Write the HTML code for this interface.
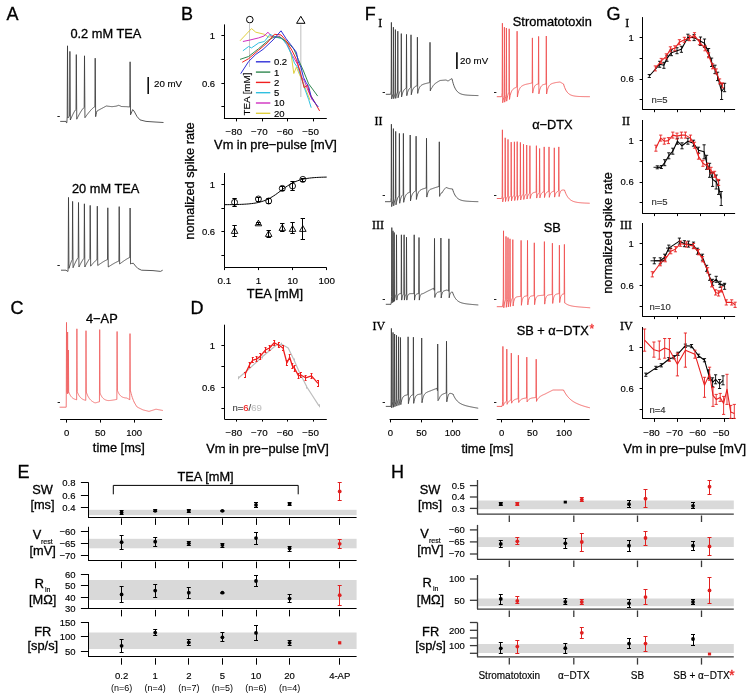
<!DOCTYPE html>
<html><head><meta charset="utf-8"><style>
html,body{margin:0;padding:0;background:#fff;}
svg{display:block;will-change:transform;}

</style></head><body>
<svg width="751" height="698" viewBox="0 0 751 698">
<rect width="751" height="698" fill="#fff"/>
<text x="6.4" y="20" font-size="18" text-anchor="start" fill="#000" stroke="#000" stroke-width="0.3" style="font-family:'Liberation Sans', sans-serif">A</text>
<text x="181" y="19.6" font-size="18" text-anchor="start" fill="#000" stroke="#000" stroke-width="0.3" style="font-family:'Liberation Sans', sans-serif">B</text>
<text x="10.5" y="314" font-size="18" text-anchor="start" fill="#000" stroke="#000" stroke-width="0.3" style="font-family:'Liberation Sans', sans-serif">C</text>
<text x="190.5" y="314.4" font-size="18" text-anchor="start" fill="#000" stroke="#000" stroke-width="0.3" style="font-family:'Liberation Sans', sans-serif">D</text>
<text x="17.5" y="478.3" font-size="18" text-anchor="start" fill="#000" stroke="#000" stroke-width="0.3" style="font-family:'Liberation Sans', sans-serif">E</text>
<text x="364.8" y="20" font-size="18" text-anchor="start" fill="#000" stroke="#000" stroke-width="0.3" style="font-family:'Liberation Sans', sans-serif">F</text>
<text x="606.5" y="20.1" font-size="18" text-anchor="start" fill="#000" stroke="#000" stroke-width="0.3" style="font-family:'Liberation Sans', sans-serif">G</text>
<text x="391" y="478.4" font-size="18" text-anchor="start" fill="#000" stroke="#000" stroke-width="0.3" style="font-family:'Liberation Sans', sans-serif">H</text>
<text x="70.4" y="37.8" font-size="12.8" text-anchor="start" fill="#000" stroke="#000" stroke-width="0.3" style="font-family:'Liberation Sans', sans-serif">0.2 mM TEA</text>
<polyline points="60.2,121.4 66,121.4 66.5,122.8 66.8,122.8 67,119.9 67.2,117 67.5,45.8 67.95,118 68.36,117.38 68.78,116.81 69.19,116.33 69.6,116 69.9,51.4 70.35,120 70.75,119.04 71.16,118.09 71.56,117.17 71.96,116.28 72.37,115.41 72.77,114.57 73.18,113.76 73.58,112.99 73.98,112.25 74.39,111.56 74.79,110.92 75.19,110.34 75.6,109.84 76,109.5 76.3,54.6 76.75,119.2 77.16,118.36 77.58,117.54 77.99,116.73 78.41,115.94 78.82,115.16 79.23,114.41 79.65,113.67 80.06,112.95 80.47,112.25 80.89,111.58 81.3,110.93 81.72,110.3 82.13,109.71 82.54,109.16 82.96,108.64 83.37,108.17 83.79,107.77 84.2,107.5 84.5,55.8 84.95,117.7 85.36,117.11 85.78,116.52 86.19,115.95 86.61,115.38 87.02,114.82 87.44,114.27 87.85,113.73 88.27,113.19 88.68,112.67 89.1,112.16 89.51,111.66 89.93,111.17 90.34,110.69 90.75,110.22 91.17,109.77 91.58,109.34 92,108.92 92.41,108.51 92.83,108.13 93.24,107.77 93.66,107.44 94.07,107.13 94.49,106.88 94.9,106.7 95.2,58.2 95.65,116.7 96.1,114.36 96.55,112.37 97,111 97,111 97.4,110.78 97.81,110.57 98.21,110.35 98.62,110.13 99.02,109.91 99.43,109.7 99.83,109.48 100.23,109.26 100.64,109.04 101.04,108.83 101.45,108.61 101.85,108.39 102.26,108.17 102.66,107.96 103.07,107.74 103.47,107.52 103.87,107.3 104.28,107.09 104.68,106.87 105.09,106.65 105.49,106.43 105.9,106.22 106.3,106 106.3,106 106.71,106.05 107.11,106.1 107.52,106.15 107.93,106.2 108.34,106.25 108.74,106.3 109.15,106.35 109.56,106.4 109.96,106.45 110.37,106.5 110.78,106.55 111.19,106.6 111.59,106.65 112,106.7 112,106.7 112.4,106.65 112.8,106.6 113.2,106.55 113.6,106.5 114,106.45 114.4,106.4 114.8,106.35 115.2,106.3 115.6,106.25 116,106.2 116,106.2 116.47,106.05 116.93,105.9 117.4,105.75 117.87,105.6 118.33,105.45 118.8,105.3 118.8,105.3 119.25,105.5 119.7,105.7 120.15,105.9 120.6,106.1 121.05,106.3 121.5,106.5 121.5,106.5 121.91,106.52 122.32,106.53 122.72,106.55 123.13,106.56 123.54,106.58 123.95,106.59 124.35,106.61 124.76,106.62 125.17,106.64 125.58,106.65 125.98,106.67 126.39,106.68 126.8,106.7 126.8,106.7 127.23,106.74 127.66,106.79 128.09,106.83 128.51,106.87 128.94,106.91 129.37,106.96 129.8,107 130.1,61.8 130.55,114.8 132.7,109.6 134,111 137,116.5 140,119.9 146,121.4 155,122 163.5,122.5" fill="none" stroke="#3a3a3a" stroke-width="0.85" stroke-linejoin="round"/>
<line x1="57.4" y1="116.5" x2="59.8" y2="116.5" stroke="#222" stroke-width="1"/>
<line x1="148.2" y1="77" x2="148.2" y2="94" stroke="#111" stroke-width="1.6"/>
<text x="154" y="87.2" font-size="9.7" text-anchor="start" fill="#000" stroke="#000" stroke-width="0.15" style="font-family:'Liberation Sans', sans-serif">20 mV</text>
<text x="72" y="192.6" font-size="12.8" text-anchor="start" fill="#000" stroke="#000" stroke-width="0.3" style="font-family:'Liberation Sans', sans-serif">20 mM TEA</text>
<polyline points="61,270.2 66,270.2 67.7,271.4 68,271.4 68.1,266.7 68.2,262 68.5,197.4 68.95,268.4 69.37,267.1 69.79,265.83 70.21,264.61 70.62,263.43 71.04,262.31 71.46,261.27 71.88,260.33 72.3,259.6 72.6,201.4 73.05,267.7 73.48,266.69 73.91,265.7 74.34,264.72 74.77,263.77 75.2,262.84 75.62,261.94 76.05,261.07 76.48,260.23 76.91,259.43 77.34,258.69 77.77,258.02 78.2,257.5 78.5,202.5 78.95,267 79.38,266.13 79.81,265.27 80.24,264.43 80.67,263.61 81.1,262.81 81.53,262.03 81.95,261.28 82.38,260.55 82.81,259.87 83.24,259.22 83.67,258.65 84.1,258.2 84.4,203.8 84.85,267 85.27,266.16 85.69,265.33 86.11,264.52 86.53,263.73 86.95,262.95 87.38,262.2 87.8,261.47 88.22,260.77 88.64,260.11 89.06,259.49 89.48,258.93 89.9,258.5 90.2,205.4 90.65,266.2 91.07,265.68 91.5,265.16 91.92,264.65 92.34,264.15 92.77,263.66 93.19,263.18 93.61,262.7 94.04,262.24 94.46,261.8 94.88,261.37 95.31,260.95 95.73,260.56 96.15,260.19 96.58,259.86 97,259.6 97.3,206.2 97.75,265.5 98.16,265.21 98.56,264.92 98.97,264.63 99.38,264.34 99.78,264.06 100.19,263.78 100.59,263.5 101,263.23 101.41,262.96 101.81,262.69 102.22,262.43 102.62,262.17 103.03,261.91 103.44,261.66 103.84,261.42 104.25,261.18 104.66,260.94 105.06,260.72 105.47,260.5 105.88,260.29 106.28,260.09 106.69,259.9 107.09,259.73 107.5,259.6 107.8,207.8 108.25,267 108.66,266.73 109.07,266.46 109.48,266.19 109.89,265.93 110.3,265.67 110.71,265.41 111.12,265.15 111.53,264.89 111.94,264.64 112.35,264.39 112.76,264.15 113.17,263.91 113.58,263.67 113.98,263.43 114.39,263.2 114.8,262.97 115.21,262.75 115.62,262.53 116.03,262.32 116.44,262.12 116.85,261.92 117.26,261.72 117.67,261.54 118.08,261.37 118.49,261.22 118.9,261.1 119.2,206.6 119.65,264 120.06,263.69 120.46,263.38 120.87,263.08 121.27,262.77 121.68,262.47 122.09,262.18 122.49,261.88 122.9,261.59 123.3,261.3 123.71,261.02 124.12,260.74 124.52,260.47 124.93,260.19 125.33,259.93 125.74,259.66 126.15,259.41 126.55,259.16 126.96,258.91 127.36,258.67 127.77,258.44 128.18,258.22 128.58,258.01 128.99,257.81 129.39,257.64 129.8,257.5 130.1,208 130.55,264 131.5,263.5 133.4,263.3 135.5,266 137.8,268.4 141.5,270.2 153,270.6 160.5,271.4 162.7,270.2" fill="none" stroke="#3a3a3a" stroke-width="0.85" stroke-linejoin="round"/>
<line x1="57.4" y1="265.5" x2="59.8" y2="265.5" stroke="#222" stroke-width="1"/>
<text x="86" y="323.2" font-size="12.8" text-anchor="start" fill="#000" stroke="#000" stroke-width="0.3" style="font-family:'Liberation Sans', sans-serif">4−AP</text>
<polyline points="59.6,407.2 66.2,407.2 66.25,400.98 66.5,322.4 66.8,391.98 66.8,391.97 67.15,392.88 67.35,393.92 67.6,332 67.9,391.93 67.9,391.91 68.15,393.19 68.4,350 68.7,391.89 68.7,391.87 69.05,392.79 69.4,393.61 69.75,394.34 70.1,394.99 70.45,395.57 70.8,396.1 71.15,396.56 71.5,396.98 71.85,397.35 72.2,397.68 72.55,397.97 72.9,398.24 73.25,398.47 73.6,398.68 73.95,398.86 74.3,399.02 74.65,399.17 75,399.29 75.35,399.41 75.7,399.51 76.05,399.6 76.4,399.71 76.65,399.85 76.9,328.8 77.2,391.55 77.2,391.56 77.55,392.51 77.9,393.36 78.25,394.13 78.6,394.82 78.95,395.44 79.3,396 79.65,396.5 80,396.95 80.35,397.35 80.7,397.72 81.05,398.05 81.4,398.35 81.75,398.62 82.1,398.86 82.45,399.08 82.8,399.28 83.15,399.46 83.5,399.62 83.85,399.77 84.2,399.9 84.55,400.02 84.9,400.13 85.25,400.24 85.6,400.33 85.75,400.42 86,330.7 86.3,392 86.3,392.08 86.65,393.11 87,394.05 87.35,394.89 87.7,395.66 88.05,396.36 88.4,397 88.75,397.58 89.1,398.11 89.45,398.6 89.8,399.04 90.15,399.45 90.5,399.83 90.85,400.18 91.2,400.5 91.55,400.8 91.9,401.07 92.25,401.33 92.6,401.58 92.95,401.8 93.3,402.02 93.65,402.22 94,402.41 94.35,402.59 94.7,402.76 95.05,402.9 95.4,402.83 95.75,402.75 96.1,402.67 96.45,402.58 96.8,402.49 97.15,402.39 97.5,402.29 97.85,402.19 98.2,402.08 98.55,401.97 98.9,401.86 99.25,401.82 99.45,401.81 99.7,329.6 100,392.95 100,392.92 100.35,393.83 100.7,394.64 101.05,395.36 101.4,396 101.75,396.58 102.1,397.09 102.45,397.55 102.8,397.95 103.15,398.31 103.5,398.64 103.85,398.92 104.2,399.17 104.55,399.4 104.9,399.59 105.25,399.77 105.6,399.92 105.95,400.06 106.3,400.18 106.65,400.28 107,400.37 107.35,400.45 107.7,400.51 108.05,400.56 108.4,400.56 108.75,400.56 109.1,400.54 109.45,400.52 109.8,400.5 110.15,400.47 110.5,400.43 110.85,400.39 111.2,400.35 111.55,400.3 111.9,400.25 112.25,400.2 112.6,400.15 112.95,400.09 113.3,400.03 113.65,399.97 114,399.91 114.35,399.85 114.7,399.79 115.05,399.72 115.4,399.65 115.75,399.59 116.1,399.53 116.45,399.5 116.85,399.44 117.1,331.5 117.4,390.49 117.4,390.46 117.75,391.35 118.1,392.15 118.45,392.87 118.8,393.5 119.15,394.07 119.5,394.57 119.85,395.02 120.2,395.42 120.55,395.77 120.9,396.09 121.25,396.36 121.6,396.61 121.95,396.82 122.3,397.01 122.65,397.18 123,397.32 123.35,397.45 123.7,397.56 124.05,397.65 124.4,397.73 124.75,397.8 125.1,397.86 125.45,397.91 125.8,397.95 126.15,397.98 126.5,398.01 126.85,398.05 127.2,398.27 127.55,398.47 127.9,398.68 128.25,398.88 128.6,399.07 128.95,399.26 129.3,399.45 129.65,399.64 129.75,399.82 130,333.6 130.3,391 130.3,391 130.5,391 131.1,393.4 131.7,395.55 132.3,397.45 132.9,399.13 133.5,400.64 134.1,402.02 134.7,403.13 135.3,404.17 135.9,405.17 136.5,406.14 137.1,406.98 137.7,407.3 138.3,407.6 138.9,407.9 139.5,408.2 140.1,408.49 140.7,408.78 141.3,409.08 141.9,409.37 142.5,409.66 143.1,409.92 143.7,410.07 144.3,410.22 144.9,410.37 145.5,410.52 146.1,410.67 146.7,410.82 147.3,410.97 147.9,411.12 148.5,411.27 149.1,411.37 149.7,411.18 150.3,410.99 150.9,410.8 151.5,410.61 152.1,410.43 152.7,410.24 153.3,410.05 153.9,409.86 154.5,409.67 155.1,409.48 155.7,409.29 156.3,409.26 156.9,409.37 157.5,409.48 158.1,409.6 158.7,409.71 159.3,409.82 159.9,409.94 160.5,410.05 161.1,410.16 161.7,410.28 162.3,410.39 162.9,410.51" fill="none" stroke="#f06060" stroke-width="0.85" stroke-linejoin="round"/>
<line x1="57.6" y1="402.5" x2="60" y2="402.5" stroke="#222" stroke-width="1"/>
<line x1="60.1" y1="419.5" x2="162.1" y2="419.5" stroke="#000" stroke-width="1"/>
<line x1="66.5" y1="419.3" x2="66.5" y2="422.6" stroke="#000" stroke-width="1"/>
<text x="66.7" y="436" font-size="9.5" text-anchor="middle" fill="#000" stroke="#000" stroke-width="0.15" style="font-family:'Liberation Sans', sans-serif">0</text>
<line x1="100.5" y1="419.3" x2="100.5" y2="422.6" stroke="#000" stroke-width="1"/>
<text x="100.2" y="436" font-size="9.5" text-anchor="middle" fill="#000" stroke="#000" stroke-width="0.15" style="font-family:'Liberation Sans', sans-serif">50</text>
<line x1="134.5" y1="419.3" x2="134.5" y2="422.6" stroke="#000" stroke-width="1"/>
<text x="134.1" y="436" font-size="9.5" text-anchor="middle" fill="#000" stroke="#000" stroke-width="0.15" style="font-family:'Liberation Sans', sans-serif">100</text>
<text x="118.8" y="452" font-size="12.8" text-anchor="middle" fill="#000" stroke="#000" stroke-width="0.3" style="font-family:'Liberation Sans', sans-serif">time [ms]</text>
<line x1="224.5" y1="24.4" x2="224.5" y2="118.9" stroke="#000" stroke-width="1"/>
<line x1="221.4" y1="35.5" x2="224.4" y2="35.5" stroke="#000" stroke-width="1"/>
<line x1="221.4" y1="59.5" x2="224.4" y2="59.5" stroke="#000" stroke-width="1"/>
<line x1="221.4" y1="83.5" x2="224.4" y2="83.5" stroke="#000" stroke-width="1"/>
<line x1="221.4" y1="106.5" x2="224.4" y2="106.5" stroke="#000" stroke-width="1"/>
<text x="215.1" y="38.9" font-size="9.5" text-anchor="end" fill="#000" stroke="#000" stroke-width="0.15" style="font-family:'Liberation Sans', sans-serif">1</text>
<text x="215.1" y="86.5" font-size="9.5" text-anchor="end" fill="#000" stroke="#000" stroke-width="0.15" style="font-family:'Liberation Sans', sans-serif">0.6</text>
<line x1="223.9" y1="118.5" x2="326.8" y2="118.5" stroke="#000" stroke-width="1"/>
<line x1="236.5" y1="118.9" x2="236.5" y2="121.4" stroke="#000" stroke-width="1"/>
<line x1="262.5" y1="118.9" x2="262.5" y2="121.4" stroke="#000" stroke-width="1"/>
<line x1="287.5" y1="118.9" x2="287.5" y2="121.4" stroke="#000" stroke-width="1"/>
<line x1="313.5" y1="118.9" x2="313.5" y2="121.4" stroke="#000" stroke-width="1"/>
<text x="233.8" y="135.3" font-size="9.8" text-anchor="middle" fill="#000" stroke="#000" stroke-width="0.15" style="font-family:'Liberation Sans', sans-serif">−80</text>
<text x="259.4" y="135.3" font-size="9.8" text-anchor="middle" fill="#000" stroke="#000" stroke-width="0.15" style="font-family:'Liberation Sans', sans-serif">−70</text>
<text x="285" y="135.3" font-size="9.8" text-anchor="middle" fill="#000" stroke="#000" stroke-width="0.15" style="font-family:'Liberation Sans', sans-serif">−60</text>
<text x="310.6" y="135.3" font-size="9.8" text-anchor="middle" fill="#000" stroke="#000" stroke-width="0.15" style="font-family:'Liberation Sans', sans-serif">−50</text>
<text x="214.1" y="149" font-size="12.8" text-anchor="start" fill="#000" stroke="#000" stroke-width="0.3" style="font-family:'Liberation Sans', sans-serif">Vm in pre−pulse [mV]</text>
<line x1="249.5" y1="24" x2="249.5" y2="67" stroke="#c8c8c8" stroke-width="1"/>
<line x1="300.8" y1="24.5" x2="300.8" y2="97" stroke="#c8c8c8" stroke-width="1.2"/>
<circle cx="249.8" cy="19.6" r="3.3" fill="none" stroke="#000" stroke-width="1"/>
<polygon points="300.8,16.3 305,23.3 296.6,23.3" fill="none" stroke="#000" stroke-width="1" stroke-linejoin="miter"/>
<polyline points="240,40.8 251.5,28.6 255.8,32.2 264.4,34.3 268.7,37.2 274,36 280,37.9 284,40 288,43.9 291.3,55.5 293.8,73.5 296.4,67.1 299.6,74.8 303,82 306,90 310,100" fill="none" stroke="#e0d040" stroke-width="1" stroke-linejoin="round"/>
<polyline points="242.9,41.5 250,40 258.7,37.9 264,36 268,32.2 271.5,36.5 276,37 280,36.5 286.7,43.9 292.5,55.5 297.7,64.5 300.9,76.1 304.5,81.2 307.4,89 311.9,99.3 316.4,104.4" fill="none" stroke="#d030c0" stroke-width="1" stroke-linejoin="round"/>
<polyline points="242.9,50.8 248.6,46.5 251.5,47.9 258.7,42.9 264.4,41.5 270,34.3 275,37 282.2,38.7 286.7,44.5 291.3,54.2 294.5,63.2 298.3,68.4 302.2,80 304.8,89 308.6,99.3 311.2,107.7" fill="none" stroke="#30c0e0" stroke-width="1" stroke-linejoin="round"/>
<polyline points="240,59.4 248.6,56.5 258.7,48.6 268.7,40 274,37 280,37.2 288.7,43.3 293.8,49 298.3,59.4 303.5,71 308.6,83.8 312.5,89 317.7,96.1" fill="none" stroke="#308850" stroke-width="1" stroke-linejoin="round"/>
<polyline points="242.2,62.3 248.6,58.7 258.7,50.1 267.2,42.9 274.4,34.3 281,34.9 286.1,40.7 291.9,50.3 296.4,59.4 300.3,72.2 304.1,87.7 307.4,85.1 309.9,94.1 313.8,100.6 319.6,110.9" fill="none" stroke="#f02020" stroke-width="1" stroke-linejoin="round"/>
<polyline points="240.7,73.7 248.6,61.5 255.8,54.4 263,49.4 273,40 281,30.8 286.1,38.7 290.6,44.5 296.4,52.3 298.3,61.9 300.9,67.1 303.5,77.4 306.1,82.5 308.6,86.4 311.2,96.7 315.1,103.1 318.3,107" fill="none" stroke="#3030d8" stroke-width="1" stroke-linejoin="round"/>
<line x1="255.9" y1="61.8" x2="270.3" y2="61.8" stroke="#3030d8" stroke-width="1.4"/>
<text x="273.9" y="65.2" font-size="9.5" text-anchor="start" fill="#000" stroke="#000" stroke-width="0.15" style="font-family:'Liberation Sans', sans-serif">0.2</text>
<line x1="255.9" y1="72.1" x2="270.3" y2="72.1" stroke="#308850" stroke-width="1.4"/>
<text x="273.9" y="75.5" font-size="9.5" text-anchor="start" fill="#000" stroke="#000" stroke-width="0.15" style="font-family:'Liberation Sans', sans-serif">1</text>
<line x1="255.9" y1="82.4" x2="270.3" y2="82.4" stroke="#f02020" stroke-width="1.4"/>
<text x="273.9" y="85.8" font-size="9.5" text-anchor="start" fill="#000" stroke="#000" stroke-width="0.15" style="font-family:'Liberation Sans', sans-serif">2</text>
<line x1="255.9" y1="92.7" x2="270.3" y2="92.7" stroke="#30c0e0" stroke-width="1.4"/>
<text x="273.9" y="96.1" font-size="9.5" text-anchor="start" fill="#000" stroke="#000" stroke-width="0.15" style="font-family:'Liberation Sans', sans-serif">5</text>
<line x1="255.9" y1="103" x2="270.3" y2="103" stroke="#d030c0" stroke-width="1.4"/>
<text x="273.9" y="106.4" font-size="9.5" text-anchor="start" fill="#000" stroke="#000" stroke-width="0.15" style="font-family:'Liberation Sans', sans-serif">10</text>
<line x1="255.9" y1="113.3" x2="270.3" y2="113.3" stroke="#e0d040" stroke-width="1.4"/>
<text x="273.9" y="116.7" font-size="9.5" text-anchor="start" fill="#000" stroke="#000" stroke-width="0.15" style="font-family:'Liberation Sans', sans-serif">20</text>
<text x="249.6" y="115.6" font-size="9.8" text-anchor="start" fill="#000" stroke="#000" stroke-width="0.15" style="font-family:'Liberation Sans', sans-serif" transform="rotate(-90 249.6 115.6)">TEA [mM]</text>
<line x1="224.5" y1="173" x2="224.5" y2="267.6" stroke="#000" stroke-width="1"/>
<line x1="221.4" y1="184.5" x2="224.4" y2="184.5" stroke="#000" stroke-width="1"/>
<line x1="221.4" y1="208.5" x2="224.4" y2="208.5" stroke="#000" stroke-width="1"/>
<line x1="221.4" y1="231.5" x2="224.4" y2="231.5" stroke="#000" stroke-width="1"/>
<line x1="221.4" y1="255.5" x2="224.4" y2="255.5" stroke="#000" stroke-width="1"/>
<text x="215.1" y="188" font-size="9.5" text-anchor="end" fill="#000" stroke="#000" stroke-width="0.15" style="font-family:'Liberation Sans', sans-serif">1</text>
<text x="215.1" y="235.3" font-size="9.5" text-anchor="end" fill="#000" stroke="#000" stroke-width="0.15" style="font-family:'Liberation Sans', sans-serif">0.6</text>
<line x1="224.4" y1="267.5" x2="326.7" y2="267.5" stroke="#000" stroke-width="1"/>
<line x1="224.5" y1="267.6" x2="224.5" y2="270.1" stroke="#000" stroke-width="1"/>
<line x1="258.5" y1="267.6" x2="258.5" y2="270.1" stroke="#000" stroke-width="1"/>
<line x1="292.5" y1="267.6" x2="292.5" y2="270.1" stroke="#000" stroke-width="1"/>
<line x1="326.5" y1="267.6" x2="326.5" y2="270.1" stroke="#000" stroke-width="1"/>
<text x="224.3" y="283.6" font-size="9.8" text-anchor="middle" fill="#000" stroke="#000" stroke-width="0.15" style="font-family:'Liberation Sans', sans-serif">0.1</text>
<text x="258.4" y="283.6" font-size="9.8" text-anchor="middle" fill="#000" stroke="#000" stroke-width="0.15" style="font-family:'Liberation Sans', sans-serif">1</text>
<text x="292.6" y="283.6" font-size="9.8" text-anchor="middle" fill="#000" stroke="#000" stroke-width="0.15" style="font-family:'Liberation Sans', sans-serif">10</text>
<text x="326.7" y="283.6" font-size="9.8" text-anchor="middle" fill="#000" stroke="#000" stroke-width="0.15" style="font-family:'Liberation Sans', sans-serif">100</text>
<text x="274.9" y="297.5" font-size="12.8" text-anchor="middle" fill="#000" stroke="#000" stroke-width="0.3" style="font-family:'Liberation Sans', sans-serif">TEA [mM]</text>
<text x="193.5" y="181" font-size="12.8" text-anchor="middle" fill="#000" stroke="#000" stroke-width="0.3" style="font-family:'Liberation Sans', sans-serif" transform="rotate(-90 193.5 181)">nomalized spike rate</text>
<polyline points="224.3,204.68 226.01,204.67 227.71,204.65 229.42,204.64 231.13,204.61 232.83,204.59 234.54,204.56 236.25,204.52 237.95,204.47 239.66,204.42 241.37,204.35 243.07,204.27 244.78,204.18 246.48,204.07 248.19,203.94 249.9,203.78 251.6,203.59 253.31,203.37 255.02,203.11 256.72,202.8 258.43,202.44 260.14,202.02 261.84,201.54 263.55,200.97 265.26,200.33 266.96,199.6 268.67,198.79 270.38,197.88 272.08,196.88 273.79,195.8 275.5,194.65 277.2,193.44 278.91,192.18 280.61,190.9 282.32,189.62 284.03,188.36 285.73,187.15 287.44,185.98 289.15,184.89 290.85,183.89 292.56,182.97 294.27,182.14 295.97,181.4 297.68,180.75 299.39,180.18 301.09,179.68 302.8,179.25 304.51,178.88 306.21,178.57 307.92,178.3 309.62,178.08 311.33,177.88 313.04,177.72 314.74,177.59 316.45,177.47 318.16,177.38 319.86,177.3 321.57,177.23 323.28,177.18 324.98,177.13 326.69,177.09" fill="none" stroke="#000" stroke-width="1" stroke-linejoin="round"/>
<line x1="234.5" y1="198" x2="234.5" y2="206.3" stroke="#000" stroke-width="1"/>
<line x1="232.37" y1="198.5" x2="236.77" y2="198.5" stroke="#000" stroke-width="1"/>
<line x1="232.37" y1="206.5" x2="236.77" y2="206.5" stroke="#000" stroke-width="1"/>
<circle cx="234.57" cy="202.3" r="3" fill="none" stroke="#000" stroke-width="0.9"/>
<line x1="258.5" y1="197" x2="258.5" y2="201" stroke="#000" stroke-width="1"/>
<line x1="256.23" y1="197.5" x2="260.63" y2="197.5" stroke="#000" stroke-width="1"/>
<line x1="256.23" y1="201.5" x2="260.63" y2="201.5" stroke="#000" stroke-width="1"/>
<circle cx="258.43" cy="199" r="3" fill="none" stroke="#000" stroke-width="0.9"/>
<line x1="268.5" y1="198.5" x2="268.5" y2="203.5" stroke="#000" stroke-width="1"/>
<line x1="266.5" y1="198.5" x2="270.9" y2="198.5" stroke="#000" stroke-width="1"/>
<line x1="266.5" y1="203.5" x2="270.9" y2="203.5" stroke="#000" stroke-width="1"/>
<circle cx="268.7" cy="201" r="3" fill="none" stroke="#000" stroke-width="0.9"/>
<line x1="282.5" y1="186.5" x2="282.5" y2="190.5" stroke="#000" stroke-width="1"/>
<line x1="280.09" y1="186.5" x2="284.49" y2="186.5" stroke="#000" stroke-width="1"/>
<line x1="280.09" y1="190.5" x2="284.49" y2="190.5" stroke="#000" stroke-width="1"/>
<circle cx="282.29" cy="188.4" r="3" fill="none" stroke="#000" stroke-width="0.9"/>
<line x1="292.5" y1="181" x2="292.5" y2="190.4" stroke="#000" stroke-width="1"/>
<line x1="290.36" y1="181.5" x2="294.76" y2="181.5" stroke="#000" stroke-width="1"/>
<line x1="290.36" y1="190.5" x2="294.76" y2="190.5" stroke="#000" stroke-width="1"/>
<circle cx="292.56" cy="186" r="3" fill="none" stroke="#000" stroke-width="0.9"/>
<line x1="302.5" y1="178" x2="302.5" y2="181" stroke="#000" stroke-width="1"/>
<line x1="300.63" y1="178.5" x2="305.03" y2="178.5" stroke="#000" stroke-width="1"/>
<line x1="300.63" y1="181.5" x2="305.03" y2="181.5" stroke="#000" stroke-width="1"/>
<circle cx="302.83" cy="179.4" r="3" fill="none" stroke="#000" stroke-width="0.9"/>
<line x1="234.5" y1="225.5" x2="234.5" y2="236.3" stroke="#000" stroke-width="1"/>
<line x1="232.37" y1="225.5" x2="236.77" y2="225.5" stroke="#000" stroke-width="1"/>
<line x1="232.37" y1="236.5" x2="236.77" y2="236.5" stroke="#000" stroke-width="1"/>
<polygon points="234.57,227.7 237.87,233.4 231.27,233.4" fill="none" stroke="#000" stroke-width="0.9"/>
<line x1="258.5" y1="222" x2="258.5" y2="224.5" stroke="#000" stroke-width="1"/>
<line x1="256.23" y1="222.5" x2="260.63" y2="222.5" stroke="#000" stroke-width="1"/>
<line x1="256.23" y1="224.5" x2="260.63" y2="224.5" stroke="#000" stroke-width="1"/>
<polygon points="258.43,220.1 261.73,225.8 255.13,225.8" fill="none" stroke="#000" stroke-width="0.9"/>
<line x1="268.5" y1="230" x2="268.5" y2="237.5" stroke="#000" stroke-width="1"/>
<line x1="266.5" y1="230.5" x2="270.9" y2="230.5" stroke="#000" stroke-width="1"/>
<line x1="266.5" y1="237.5" x2="270.9" y2="237.5" stroke="#000" stroke-width="1"/>
<polygon points="268.7,230.7 272,236.4 265.4,236.4" fill="none" stroke="#000" stroke-width="0.9"/>
<line x1="282.5" y1="223.5" x2="282.5" y2="231.9" stroke="#000" stroke-width="1"/>
<line x1="280.09" y1="223.5" x2="284.49" y2="223.5" stroke="#000" stroke-width="1"/>
<line x1="280.09" y1="231.5" x2="284.49" y2="231.5" stroke="#000" stroke-width="1"/>
<polygon points="282.29,224.7 285.59,230.4 278.99,230.4" fill="none" stroke="#000" stroke-width="0.9"/>
<line x1="292.5" y1="222.9" x2="292.5" y2="233.5" stroke="#000" stroke-width="1"/>
<line x1="290.36" y1="222.5" x2="294.76" y2="222.5" stroke="#000" stroke-width="1"/>
<line x1="290.36" y1="233.5" x2="294.76" y2="233.5" stroke="#000" stroke-width="1"/>
<polygon points="292.56,225.7 295.86,231.4 289.26,231.4" fill="none" stroke="#000" stroke-width="0.9"/>
<line x1="302.5" y1="218.9" x2="302.5" y2="239.9" stroke="#000" stroke-width="1"/>
<line x1="300.63" y1="218.5" x2="305.03" y2="218.5" stroke="#000" stroke-width="1"/>
<line x1="300.63" y1="239.5" x2="305.03" y2="239.5" stroke="#000" stroke-width="1"/>
<polygon points="302.83,225.7 306.13,231.4 299.53,231.4" fill="none" stroke="#000" stroke-width="0.9"/>
<line x1="224.5" y1="324.7" x2="224.5" y2="419.1" stroke="#000" stroke-width="1"/>
<line x1="221.4" y1="345.5" x2="224.4" y2="345.5" stroke="#000" stroke-width="1"/>
<line x1="221.4" y1="366.5" x2="224.4" y2="366.5" stroke="#000" stroke-width="1"/>
<line x1="221.4" y1="387.5" x2="224.4" y2="387.5" stroke="#000" stroke-width="1"/>
<line x1="221.4" y1="408.5" x2="224.4" y2="408.5" stroke="#000" stroke-width="1"/>
<text x="215.1" y="348.9" font-size="9.5" text-anchor="end" fill="#000" stroke="#000" stroke-width="0.15" style="font-family:'Liberation Sans', sans-serif">1</text>
<text x="215.1" y="390.9" font-size="9.5" text-anchor="end" fill="#000" stroke="#000" stroke-width="0.15" style="font-family:'Liberation Sans', sans-serif">0.6</text>
<line x1="224.4" y1="419.5" x2="326.8" y2="419.5" stroke="#000" stroke-width="1"/>
<line x1="236.5" y1="419.1" x2="236.5" y2="421.6" stroke="#000" stroke-width="1"/>
<line x1="262.5" y1="419.1" x2="262.5" y2="421.6" stroke="#000" stroke-width="1"/>
<line x1="287.5" y1="419.1" x2="287.5" y2="421.6" stroke="#000" stroke-width="1"/>
<line x1="313.5" y1="419.1" x2="313.5" y2="421.6" stroke="#000" stroke-width="1"/>
<text x="233.8" y="435.5" font-size="9.8" text-anchor="middle" fill="#000" stroke="#000" stroke-width="0.15" style="font-family:'Liberation Sans', sans-serif">−80</text>
<text x="259.4" y="435.5" font-size="9.8" text-anchor="middle" fill="#000" stroke="#000" stroke-width="0.15" style="font-family:'Liberation Sans', sans-serif">−70</text>
<text x="285" y="435.5" font-size="9.8" text-anchor="middle" fill="#000" stroke="#000" stroke-width="0.15" style="font-family:'Liberation Sans', sans-serif">−60</text>
<text x="310.6" y="435.5" font-size="9.8" text-anchor="middle" fill="#000" stroke="#000" stroke-width="0.15" style="font-family:'Liberation Sans', sans-serif">−50</text>
<text x="206.2" y="452.5" font-size="12.8" text-anchor="start" fill="#000" stroke="#000" stroke-width="0.3" style="font-family:'Liberation Sans', sans-serif">Vm in pre−pulse [mV]</text>
<polyline points="238.8,377.8 250,368 262,357 276.1,345.2 281.7,344.2 288.2,348 294,360 299.4,372.2 306.9,387.1 312,395 319,405.8" fill="none" stroke="#bdbdbd" stroke-width="1.2" stroke-linejoin="round"/>
<line x1="238.5" y1="376.3" x2="238.5" y2="379.3" stroke="#bdbdbd" stroke-width="1"/>
<line x1="262.5" y1="355.5" x2="262.5" y2="358.5" stroke="#bdbdbd" stroke-width="1"/>
<line x1="281.5" y1="342.7" x2="281.5" y2="345.7" stroke="#bdbdbd" stroke-width="1"/>
<line x1="294.5" y1="358.5" x2="294.5" y2="361.5" stroke="#bdbdbd" stroke-width="1"/>
<line x1="306.5" y1="385.6" x2="306.5" y2="388.6" stroke="#bdbdbd" stroke-width="1"/>
<line x1="319.5" y1="404.3" x2="319.5" y2="407.3" stroke="#bdbdbd" stroke-width="1"/>
<polyline points="245,374.6 249.6,364.7 252.8,360.1 256.5,359.1 260.2,356.4 265.5,349.8 269.6,348 274.2,342.7 278.9,345.2 283,348 286.9,362.9 289.7,357.3 292.3,365.7 294.7,368.5 298.5,375.9 300.9,375 305.6,377.8 311.5,375.9 318,383.4" fill="none" stroke="#ee1c1c" stroke-width="1.3" stroke-linejoin="round"/>
<line x1="245.5" y1="372" x2="245.5" y2="377.2" stroke="#ee1c1c" stroke-width="1"/>
<line x1="244" y1="372.5" x2="246" y2="372.5" stroke="#ee1c1c" stroke-width="1"/>
<line x1="244" y1="377.5" x2="246" y2="377.5" stroke="#ee1c1c" stroke-width="1"/>
<line x1="249.5" y1="362.1" x2="249.5" y2="367.3" stroke="#ee1c1c" stroke-width="1"/>
<line x1="248.6" y1="362.5" x2="250.6" y2="362.5" stroke="#ee1c1c" stroke-width="1"/>
<line x1="248.6" y1="367.5" x2="250.6" y2="367.5" stroke="#ee1c1c" stroke-width="1"/>
<line x1="252.5" y1="357.5" x2="252.5" y2="362.7" stroke="#ee1c1c" stroke-width="1"/>
<line x1="251.8" y1="357.5" x2="253.8" y2="357.5" stroke="#ee1c1c" stroke-width="1"/>
<line x1="251.8" y1="362.5" x2="253.8" y2="362.5" stroke="#ee1c1c" stroke-width="1"/>
<line x1="256.5" y1="356.5" x2="256.5" y2="361.7" stroke="#ee1c1c" stroke-width="1"/>
<line x1="255.5" y1="356.5" x2="257.5" y2="356.5" stroke="#ee1c1c" stroke-width="1"/>
<line x1="255.5" y1="361.5" x2="257.5" y2="361.5" stroke="#ee1c1c" stroke-width="1"/>
<line x1="260.5" y1="353.8" x2="260.5" y2="359" stroke="#ee1c1c" stroke-width="1"/>
<line x1="259.2" y1="353.5" x2="261.2" y2="353.5" stroke="#ee1c1c" stroke-width="1"/>
<line x1="259.2" y1="359.5" x2="261.2" y2="359.5" stroke="#ee1c1c" stroke-width="1"/>
<line x1="265.5" y1="347.2" x2="265.5" y2="352.4" stroke="#ee1c1c" stroke-width="1"/>
<line x1="264.5" y1="347.5" x2="266.5" y2="347.5" stroke="#ee1c1c" stroke-width="1"/>
<line x1="264.5" y1="352.5" x2="266.5" y2="352.5" stroke="#ee1c1c" stroke-width="1"/>
<line x1="269.5" y1="345.4" x2="269.5" y2="350.6" stroke="#ee1c1c" stroke-width="1"/>
<line x1="268.6" y1="345.5" x2="270.6" y2="345.5" stroke="#ee1c1c" stroke-width="1"/>
<line x1="268.6" y1="350.5" x2="270.6" y2="350.5" stroke="#ee1c1c" stroke-width="1"/>
<line x1="274.5" y1="340.1" x2="274.5" y2="345.3" stroke="#ee1c1c" stroke-width="1"/>
<line x1="273.2" y1="340.5" x2="275.2" y2="340.5" stroke="#ee1c1c" stroke-width="1"/>
<line x1="273.2" y1="345.5" x2="275.2" y2="345.5" stroke="#ee1c1c" stroke-width="1"/>
<line x1="278.5" y1="342.6" x2="278.5" y2="347.8" stroke="#ee1c1c" stroke-width="1"/>
<line x1="277.9" y1="342.5" x2="279.9" y2="342.5" stroke="#ee1c1c" stroke-width="1"/>
<line x1="277.9" y1="347.5" x2="279.9" y2="347.5" stroke="#ee1c1c" stroke-width="1"/>
<line x1="283.5" y1="345.4" x2="283.5" y2="350.6" stroke="#ee1c1c" stroke-width="1"/>
<line x1="282" y1="345.5" x2="284" y2="345.5" stroke="#ee1c1c" stroke-width="1"/>
<line x1="282" y1="350.5" x2="284" y2="350.5" stroke="#ee1c1c" stroke-width="1"/>
<line x1="286.5" y1="360.3" x2="286.5" y2="365.5" stroke="#ee1c1c" stroke-width="1"/>
<line x1="285.9" y1="360.5" x2="287.9" y2="360.5" stroke="#ee1c1c" stroke-width="1"/>
<line x1="285.9" y1="365.5" x2="287.9" y2="365.5" stroke="#ee1c1c" stroke-width="1"/>
<line x1="289.5" y1="354.7" x2="289.5" y2="359.9" stroke="#ee1c1c" stroke-width="1"/>
<line x1="288.7" y1="354.5" x2="290.7" y2="354.5" stroke="#ee1c1c" stroke-width="1"/>
<line x1="288.7" y1="359.5" x2="290.7" y2="359.5" stroke="#ee1c1c" stroke-width="1"/>
<line x1="292.5" y1="363.1" x2="292.5" y2="368.3" stroke="#ee1c1c" stroke-width="1"/>
<line x1="291.3" y1="363.5" x2="293.3" y2="363.5" stroke="#ee1c1c" stroke-width="1"/>
<line x1="291.3" y1="368.5" x2="293.3" y2="368.5" stroke="#ee1c1c" stroke-width="1"/>
<line x1="294.5" y1="365.9" x2="294.5" y2="371.1" stroke="#ee1c1c" stroke-width="1"/>
<line x1="293.7" y1="365.5" x2="295.7" y2="365.5" stroke="#ee1c1c" stroke-width="1"/>
<line x1="293.7" y1="371.5" x2="295.7" y2="371.5" stroke="#ee1c1c" stroke-width="1"/>
<line x1="298.5" y1="373.3" x2="298.5" y2="378.5" stroke="#ee1c1c" stroke-width="1"/>
<line x1="297.5" y1="373.5" x2="299.5" y2="373.5" stroke="#ee1c1c" stroke-width="1"/>
<line x1="297.5" y1="378.5" x2="299.5" y2="378.5" stroke="#ee1c1c" stroke-width="1"/>
<line x1="300.5" y1="372.4" x2="300.5" y2="377.6" stroke="#ee1c1c" stroke-width="1"/>
<line x1="299.9" y1="372.5" x2="301.9" y2="372.5" stroke="#ee1c1c" stroke-width="1"/>
<line x1="299.9" y1="377.5" x2="301.9" y2="377.5" stroke="#ee1c1c" stroke-width="1"/>
<line x1="305.5" y1="375.2" x2="305.5" y2="380.4" stroke="#ee1c1c" stroke-width="1"/>
<line x1="304.6" y1="375.5" x2="306.6" y2="375.5" stroke="#ee1c1c" stroke-width="1"/>
<line x1="304.6" y1="380.5" x2="306.6" y2="380.5" stroke="#ee1c1c" stroke-width="1"/>
<line x1="311.5" y1="373.3" x2="311.5" y2="378.5" stroke="#ee1c1c" stroke-width="1"/>
<line x1="310.5" y1="373.5" x2="312.5" y2="373.5" stroke="#ee1c1c" stroke-width="1"/>
<line x1="310.5" y1="378.5" x2="312.5" y2="378.5" stroke="#ee1c1c" stroke-width="1"/>
<line x1="318.5" y1="380.8" x2="318.5" y2="386" stroke="#ee1c1c" stroke-width="1"/>
<line x1="317" y1="380.5" x2="319" y2="380.5" stroke="#ee1c1c" stroke-width="1"/>
<line x1="317" y1="386.5" x2="319" y2="386.5" stroke="#ee1c1c" stroke-width="1"/>
<text x="232.4" y="410.8" font-size="9.5" text-anchor="start" fill="#000" stroke="#000" stroke-width="0.15" style="font-family:'Liberation Sans', sans-serif"><tspan fill="#444" stroke="#444">n=</tspan><tspan fill="#ee1c1c" stroke="#ee1c1c">6</tspan><tspan fill="#444" stroke="#444">/</tspan><tspan fill="#c0c0c0" stroke="#c0c0c0">69</tspan></text>
<rect x="88.5" y="509.8" width="268.1" height="5.4" fill="#d9d9d9"/>
<line x1="88.5" y1="482.4" x2="88.5" y2="517.1" stroke="#000" stroke-width="1"/>
<line x1="88" y1="517.5" x2="356.6" y2="517.5" stroke="#000" stroke-width="1"/>
<line x1="80.9" y1="482.5" x2="88.5" y2="482.5" stroke="#000" stroke-width="1"/>
<line x1="80.9" y1="495.5" x2="88.5" y2="495.5" stroke="#000" stroke-width="1"/>
<line x1="80.9" y1="507.5" x2="88.5" y2="507.5" stroke="#000" stroke-width="1"/>
<text x="75.5" y="486" font-size="9.5" text-anchor="end" fill="#000" stroke="#000" stroke-width="0.15" style="font-family:'Liberation Sans', sans-serif">0.8</text>
<text x="75.5" y="498.5" font-size="9.5" text-anchor="end" fill="#000" stroke="#000" stroke-width="0.15" style="font-family:'Liberation Sans', sans-serif">0.6</text>
<text x="75.5" y="511" font-size="9.5" text-anchor="end" fill="#000" stroke="#000" stroke-width="0.15" style="font-family:'Liberation Sans', sans-serif">0.4</text>
<line x1="121.5" y1="518.4" x2="121.5" y2="524.9" stroke="#000" stroke-width="1"/>
<line x1="155.5" y1="518.4" x2="155.5" y2="524.9" stroke="#000" stroke-width="1"/>
<line x1="188.5" y1="518.4" x2="188.5" y2="524.9" stroke="#000" stroke-width="1"/>
<line x1="222.5" y1="518.4" x2="222.5" y2="524.9" stroke="#000" stroke-width="1"/>
<line x1="256.5" y1="518.4" x2="256.5" y2="524.9" stroke="#000" stroke-width="1"/>
<line x1="289.5" y1="518.4" x2="289.5" y2="524.9" stroke="#000" stroke-width="1"/>
<line x1="339.5" y1="518.4" x2="339.5" y2="524.9" stroke="#000" stroke-width="1"/>
<rect x="88.5" y="538.8" width="268.1" height="9.5" fill="#d9d9d9"/>
<line x1="88.5" y1="526.8" x2="88.5" y2="560.4" stroke="#000" stroke-width="1"/>
<line x1="88" y1="560.5" x2="356.6" y2="560.5" stroke="#000" stroke-width="1"/>
<line x1="80.9" y1="531.5" x2="88.5" y2="531.5" stroke="#000" stroke-width="1"/>
<line x1="80.9" y1="543.5" x2="88.5" y2="543.5" stroke="#000" stroke-width="1"/>
<line x1="80.9" y1="555.5" x2="88.5" y2="555.5" stroke="#000" stroke-width="1"/>
<text x="75.5" y="534.6" font-size="9.5" text-anchor="end" fill="#000" stroke="#000" stroke-width="0.15" style="font-family:'Liberation Sans', sans-serif">−60</text>
<text x="75.5" y="546.8" font-size="9.5" text-anchor="end" fill="#000" stroke="#000" stroke-width="0.15" style="font-family:'Liberation Sans', sans-serif">−65</text>
<text x="75.5" y="559" font-size="9.5" text-anchor="end" fill="#000" stroke="#000" stroke-width="0.15" style="font-family:'Liberation Sans', sans-serif">−70</text>
<line x1="121.5" y1="561.7" x2="121.5" y2="568.2" stroke="#000" stroke-width="1"/>
<line x1="155.5" y1="561.7" x2="155.5" y2="568.2" stroke="#000" stroke-width="1"/>
<line x1="188.5" y1="561.7" x2="188.5" y2="568.2" stroke="#000" stroke-width="1"/>
<line x1="222.5" y1="561.7" x2="222.5" y2="568.2" stroke="#000" stroke-width="1"/>
<line x1="256.5" y1="561.7" x2="256.5" y2="568.2" stroke="#000" stroke-width="1"/>
<line x1="289.5" y1="561.7" x2="289.5" y2="568.2" stroke="#000" stroke-width="1"/>
<line x1="339.5" y1="561.7" x2="339.5" y2="568.2" stroke="#000" stroke-width="1"/>
<rect x="88.5" y="580" width="268.1" height="20" fill="#d9d9d9"/>
<line x1="88.5" y1="574" x2="88.5" y2="608.6" stroke="#000" stroke-width="1"/>
<line x1="88" y1="608.5" x2="356.6" y2="608.5" stroke="#000" stroke-width="1"/>
<line x1="80.9" y1="574.5" x2="88.5" y2="574.5" stroke="#000" stroke-width="1"/>
<line x1="80.9" y1="585.5" x2="88.5" y2="585.5" stroke="#000" stroke-width="1"/>
<line x1="80.9" y1="597.5" x2="88.5" y2="597.5" stroke="#000" stroke-width="1"/>
<line x1="80.9" y1="608.5" x2="88.5" y2="608.5" stroke="#000" stroke-width="1"/>
<text x="75.5" y="577.6" font-size="9.5" text-anchor="end" fill="#000" stroke="#000" stroke-width="0.15" style="font-family:'Liberation Sans', sans-serif">60</text>
<text x="75.5" y="589" font-size="9.5" text-anchor="end" fill="#000" stroke="#000" stroke-width="0.15" style="font-family:'Liberation Sans', sans-serif">50</text>
<text x="75.5" y="600.5" font-size="9.5" text-anchor="end" fill="#000" stroke="#000" stroke-width="0.15" style="font-family:'Liberation Sans', sans-serif">40</text>
<text x="75.5" y="612" font-size="9.5" text-anchor="end" fill="#000" stroke="#000" stroke-width="0.15" style="font-family:'Liberation Sans', sans-serif">30</text>
<line x1="121.5" y1="609.9" x2="121.5" y2="616.4" stroke="#000" stroke-width="1"/>
<line x1="155.5" y1="609.9" x2="155.5" y2="616.4" stroke="#000" stroke-width="1"/>
<line x1="188.5" y1="609.9" x2="188.5" y2="616.4" stroke="#000" stroke-width="1"/>
<line x1="222.5" y1="609.9" x2="222.5" y2="616.4" stroke="#000" stroke-width="1"/>
<line x1="256.5" y1="609.9" x2="256.5" y2="616.4" stroke="#000" stroke-width="1"/>
<line x1="289.5" y1="609.9" x2="289.5" y2="616.4" stroke="#000" stroke-width="1"/>
<line x1="339.5" y1="609.9" x2="339.5" y2="616.4" stroke="#000" stroke-width="1"/>
<rect x="88.5" y="632.5" width="268.1" height="16.5" fill="#d9d9d9"/>
<line x1="88.5" y1="622" x2="88.5" y2="656.9" stroke="#000" stroke-width="1"/>
<line x1="88" y1="656.5" x2="356.6" y2="656.5" stroke="#000" stroke-width="1"/>
<line x1="80.9" y1="622.5" x2="88.5" y2="622.5" stroke="#000" stroke-width="1"/>
<line x1="80.9" y1="636.5" x2="88.5" y2="636.5" stroke="#000" stroke-width="1"/>
<line x1="80.9" y1="651.5" x2="88.5" y2="651.5" stroke="#000" stroke-width="1"/>
<text x="75.5" y="625.6" font-size="9.5" text-anchor="end" fill="#000" stroke="#000" stroke-width="0.15" style="font-family:'Liberation Sans', sans-serif">150</text>
<text x="75.5" y="640.1" font-size="9.5" text-anchor="end" fill="#000" stroke="#000" stroke-width="0.15" style="font-family:'Liberation Sans', sans-serif">100</text>
<text x="75.5" y="654.6" font-size="9.5" text-anchor="end" fill="#000" stroke="#000" stroke-width="0.15" style="font-family:'Liberation Sans', sans-serif">50</text>
<line x1="121.5" y1="658.2" x2="121.5" y2="664.7" stroke="#000" stroke-width="1"/>
<line x1="155.5" y1="658.2" x2="155.5" y2="664.7" stroke="#000" stroke-width="1"/>
<line x1="188.5" y1="658.2" x2="188.5" y2="664.7" stroke="#000" stroke-width="1"/>
<line x1="222.5" y1="658.2" x2="222.5" y2="664.7" stroke="#000" stroke-width="1"/>
<line x1="256.5" y1="658.2" x2="256.5" y2="664.7" stroke="#000" stroke-width="1"/>
<line x1="289.5" y1="658.2" x2="289.5" y2="664.7" stroke="#000" stroke-width="1"/>
<line x1="339.5" y1="658.2" x2="339.5" y2="664.7" stroke="#000" stroke-width="1"/>
<text x="42.5" y="493.6" font-size="12.8" text-anchor="middle" fill="#000" stroke="#000" stroke-width="0.3" style="font-family:'Liberation Sans', sans-serif">SW</text>
<text x="42.5" y="508.8" font-size="12.8" text-anchor="middle" fill="#000" stroke="#000" stroke-width="0.3" style="font-family:'Liberation Sans', sans-serif">[ms]</text>
<text x="32.7" y="539.2" font-size="12.8" text-anchor="start" fill="#000" stroke="#000" stroke-width="0.3" style="font-family:'Liberation Sans', sans-serif">V</text>
<text x="41" y="543.8" font-size="7" text-anchor="start" fill="#000" stroke="#000" stroke-width="0.15" style="font-family:'Liberation Sans', sans-serif">rest</text>
<text x="42.6" y="555" font-size="12.8" text-anchor="middle" fill="#000" stroke="#000" stroke-width="0.3" style="font-family:'Liberation Sans', sans-serif">[mV]</text>
<text x="34.7" y="588" font-size="12.8" text-anchor="start" fill="#000" stroke="#000" stroke-width="0.3" style="font-family:'Liberation Sans', sans-serif">R</text>
<text x="45" y="591.5" font-size="7" text-anchor="start" fill="#000" stroke="#000" stroke-width="0.15" style="font-family:'Liberation Sans', sans-serif">in</text>
<text x="42.7" y="603.5" font-size="12.8" text-anchor="middle" fill="#000" stroke="#000" stroke-width="0.3" style="font-family:'Liberation Sans', sans-serif">[MΩ]</text>
<text x="42.8" y="635.8" font-size="12.8" text-anchor="middle" fill="#000" stroke="#000" stroke-width="0.3" style="font-family:'Liberation Sans', sans-serif">FR</text>
<text x="42.8" y="649.8" font-size="12.8" text-anchor="middle" fill="#000" stroke="#000" stroke-width="0.3" style="font-family:'Liberation Sans', sans-serif">[sp/s]</text>
<polyline points="113.3,494.3 113.3,485.4 298.2,485.4 298.2,494.3" fill="none" stroke="#000" stroke-width="1" stroke-linejoin="round"/>
<text x="205.6" y="481" font-size="12.8" text-anchor="middle" fill="#000" stroke="#000" stroke-width="0.3" style="font-family:'Liberation Sans', sans-serif">TEA [mM]</text>
<line x1="121.5" y1="510.4" x2="121.5" y2="514.4" stroke="#000" stroke-width="1"/>
<line x1="119.6" y1="510.5" x2="123.6" y2="510.5" stroke="#000" stroke-width="1"/>
<line x1="119.6" y1="514.5" x2="123.6" y2="514.5" stroke="#000" stroke-width="1"/>
<circle cx="121.6" cy="512.4" r="1.9" fill="#000" stroke="none" stroke-width="0"/>
<line x1="155.5" y1="509.8" x2="155.5" y2="511.8" stroke="#000" stroke-width="1"/>
<line x1="153.2" y1="509.5" x2="157.2" y2="509.5" stroke="#000" stroke-width="1"/>
<line x1="153.2" y1="511.5" x2="157.2" y2="511.5" stroke="#000" stroke-width="1"/>
<circle cx="155.2" cy="510.8" r="1.9" fill="#000" stroke="none" stroke-width="0"/>
<line x1="188.5" y1="509" x2="188.5" y2="512.6" stroke="#000" stroke-width="1"/>
<line x1="186.8" y1="509.5" x2="190.8" y2="509.5" stroke="#000" stroke-width="1"/>
<line x1="186.8" y1="512.5" x2="190.8" y2="512.5" stroke="#000" stroke-width="1"/>
<circle cx="188.8" cy="510.8" r="1.9" fill="#000" stroke="none" stroke-width="0"/>
<line x1="222.5" y1="510" x2="222.5" y2="511.6" stroke="#000" stroke-width="1"/>
<line x1="220.4" y1="510.5" x2="224.4" y2="510.5" stroke="#000" stroke-width="1"/>
<line x1="220.4" y1="511.5" x2="224.4" y2="511.5" stroke="#000" stroke-width="1"/>
<circle cx="222.4" cy="510.8" r="1.9" fill="#000" stroke="none" stroke-width="0"/>
<line x1="256.5" y1="502.5" x2="256.5" y2="507.1" stroke="#000" stroke-width="1"/>
<line x1="254" y1="502.5" x2="258" y2="502.5" stroke="#000" stroke-width="1"/>
<line x1="254" y1="507.5" x2="258" y2="507.5" stroke="#000" stroke-width="1"/>
<circle cx="256" cy="504.9" r="1.9" fill="#000" stroke="none" stroke-width="0"/>
<line x1="289.5" y1="502.3" x2="289.5" y2="505.3" stroke="#000" stroke-width="1"/>
<line x1="287.6" y1="502.5" x2="291.6" y2="502.5" stroke="#000" stroke-width="1"/>
<line x1="287.6" y1="505.5" x2="291.6" y2="505.5" stroke="#000" stroke-width="1"/>
<circle cx="289.6" cy="503.8" r="1.9" fill="#000" stroke="none" stroke-width="0"/>
<line x1="339.5" y1="482.3" x2="339.5" y2="500.4" stroke="#e02020" stroke-width="1"/>
<line x1="337.7" y1="482.5" x2="341.7" y2="482.5" stroke="#e02020" stroke-width="1"/>
<line x1="337.7" y1="500.5" x2="341.7" y2="500.5" stroke="#e02020" stroke-width="1"/>
<circle cx="339.7" cy="491.4" r="1.9" fill="#e02020" stroke="none" stroke-width="0"/>
<line x1="121.5" y1="535.5" x2="121.5" y2="549.1" stroke="#000" stroke-width="1"/>
<line x1="119.6" y1="535.5" x2="123.6" y2="535.5" stroke="#000" stroke-width="1"/>
<line x1="119.6" y1="549.5" x2="123.6" y2="549.5" stroke="#000" stroke-width="1"/>
<circle cx="121.6" cy="542.2" r="1.9" fill="#000" stroke="none" stroke-width="0"/>
<line x1="155.5" y1="537" x2="155.5" y2="546" stroke="#000" stroke-width="1"/>
<line x1="153.2" y1="537.5" x2="157.2" y2="537.5" stroke="#000" stroke-width="1"/>
<line x1="153.2" y1="546.5" x2="157.2" y2="546.5" stroke="#000" stroke-width="1"/>
<circle cx="155.2" cy="541.7" r="1.9" fill="#000" stroke="none" stroke-width="0"/>
<line x1="188.5" y1="541.5" x2="188.5" y2="545.1" stroke="#000" stroke-width="1"/>
<line x1="186.8" y1="541.5" x2="190.8" y2="541.5" stroke="#000" stroke-width="1"/>
<line x1="186.8" y1="545.5" x2="190.8" y2="545.5" stroke="#000" stroke-width="1"/>
<circle cx="188.8" cy="543.3" r="1.9" fill="#000" stroke="none" stroke-width="0"/>
<line x1="222.5" y1="543" x2="222.5" y2="547.3" stroke="#000" stroke-width="1"/>
<line x1="220.4" y1="543.5" x2="224.4" y2="543.5" stroke="#000" stroke-width="1"/>
<line x1="220.4" y1="547.5" x2="224.4" y2="547.5" stroke="#000" stroke-width="1"/>
<circle cx="222.4" cy="545.1" r="1.9" fill="#000" stroke="none" stroke-width="0"/>
<line x1="256.5" y1="532.3" x2="256.5" y2="544.6" stroke="#000" stroke-width="1"/>
<line x1="254" y1="532.5" x2="258" y2="532.5" stroke="#000" stroke-width="1"/>
<line x1="254" y1="544.5" x2="258" y2="544.5" stroke="#000" stroke-width="1"/>
<circle cx="256" cy="538.1" r="1.9" fill="#000" stroke="none" stroke-width="0"/>
<line x1="289.5" y1="546" x2="289.5" y2="551.1" stroke="#000" stroke-width="1"/>
<line x1="287.6" y1="546.5" x2="291.6" y2="546.5" stroke="#000" stroke-width="1"/>
<line x1="287.6" y1="551.5" x2="291.6" y2="551.5" stroke="#000" stroke-width="1"/>
<circle cx="289.6" cy="548.5" r="1.9" fill="#000" stroke="none" stroke-width="0"/>
<line x1="339.5" y1="539.9" x2="339.5" y2="548.5" stroke="#e02020" stroke-width="1"/>
<line x1="337.7" y1="539.5" x2="341.7" y2="539.5" stroke="#e02020" stroke-width="1"/>
<line x1="337.7" y1="548.5" x2="341.7" y2="548.5" stroke="#e02020" stroke-width="1"/>
<circle cx="339.7" cy="543.8" r="1.9" fill="#e02020" stroke="none" stroke-width="0"/>
<line x1="121.5" y1="586.4" x2="121.5" y2="602.2" stroke="#000" stroke-width="1"/>
<line x1="119.6" y1="586.5" x2="123.6" y2="586.5" stroke="#000" stroke-width="1"/>
<line x1="119.6" y1="602.5" x2="123.6" y2="602.5" stroke="#000" stroke-width="1"/>
<circle cx="121.6" cy="594.4" r="1.9" fill="#000" stroke="none" stroke-width="0"/>
<line x1="155.5" y1="584" x2="155.5" y2="597" stroke="#000" stroke-width="1"/>
<line x1="153.2" y1="584.5" x2="157.2" y2="584.5" stroke="#000" stroke-width="1"/>
<line x1="153.2" y1="597.5" x2="157.2" y2="597.5" stroke="#000" stroke-width="1"/>
<circle cx="155.2" cy="590.6" r="1.9" fill="#000" stroke="none" stroke-width="0"/>
<line x1="188.5" y1="587" x2="188.5" y2="598.2" stroke="#000" stroke-width="1"/>
<line x1="186.8" y1="587.5" x2="190.8" y2="587.5" stroke="#000" stroke-width="1"/>
<line x1="186.8" y1="598.5" x2="190.8" y2="598.5" stroke="#000" stroke-width="1"/>
<circle cx="188.8" cy="592.7" r="1.9" fill="#000" stroke="none" stroke-width="0"/>
<line x1="222.5" y1="592" x2="222.5" y2="593.5" stroke="#000" stroke-width="1"/>
<line x1="220.4" y1="592.5" x2="224.4" y2="592.5" stroke="#000" stroke-width="1"/>
<line x1="220.4" y1="593.5" x2="224.4" y2="593.5" stroke="#000" stroke-width="1"/>
<circle cx="222.4" cy="592.7" r="1.9" fill="#000" stroke="none" stroke-width="0"/>
<line x1="256.5" y1="575.7" x2="256.5" y2="586.5" stroke="#000" stroke-width="1"/>
<line x1="254" y1="575.5" x2="258" y2="575.5" stroke="#000" stroke-width="1"/>
<line x1="254" y1="586.5" x2="258" y2="586.5" stroke="#000" stroke-width="1"/>
<circle cx="256" cy="581" r="1.9" fill="#000" stroke="none" stroke-width="0"/>
<line x1="289.5" y1="594.6" x2="289.5" y2="602.4" stroke="#000" stroke-width="1"/>
<line x1="287.6" y1="594.5" x2="291.6" y2="594.5" stroke="#000" stroke-width="1"/>
<line x1="287.6" y1="602.5" x2="291.6" y2="602.5" stroke="#000" stroke-width="1"/>
<circle cx="289.6" cy="598.6" r="1.9" fill="#000" stroke="none" stroke-width="0"/>
<line x1="339.5" y1="585.4" x2="339.5" y2="605.1" stroke="#e02020" stroke-width="1"/>
<line x1="337.7" y1="585.5" x2="341.7" y2="585.5" stroke="#e02020" stroke-width="1"/>
<line x1="337.7" y1="605.5" x2="341.7" y2="605.5" stroke="#e02020" stroke-width="1"/>
<circle cx="339.7" cy="595.2" r="1.9" fill="#e02020" stroke="none" stroke-width="0"/>
<line x1="121.5" y1="639.4" x2="121.5" y2="652.6" stroke="#000" stroke-width="1"/>
<line x1="119.6" y1="639.5" x2="123.6" y2="639.5" stroke="#000" stroke-width="1"/>
<line x1="119.6" y1="652.5" x2="123.6" y2="652.5" stroke="#000" stroke-width="1"/>
<circle cx="121.6" cy="645.8" r="1.9" fill="#000" stroke="none" stroke-width="0"/>
<line x1="155.5" y1="629.5" x2="155.5" y2="635.5" stroke="#000" stroke-width="1"/>
<line x1="153.2" y1="629.5" x2="157.2" y2="629.5" stroke="#000" stroke-width="1"/>
<line x1="153.2" y1="635.5" x2="157.2" y2="635.5" stroke="#000" stroke-width="1"/>
<circle cx="155.2" cy="632.6" r="1.9" fill="#000" stroke="none" stroke-width="0"/>
<line x1="188.5" y1="639" x2="188.5" y2="645.8" stroke="#000" stroke-width="1"/>
<line x1="186.8" y1="639.5" x2="190.8" y2="639.5" stroke="#000" stroke-width="1"/>
<line x1="186.8" y1="645.5" x2="190.8" y2="645.5" stroke="#000" stroke-width="1"/>
<circle cx="188.8" cy="642.4" r="1.9" fill="#000" stroke="none" stroke-width="0"/>
<line x1="222.5" y1="632.3" x2="222.5" y2="641.9" stroke="#000" stroke-width="1"/>
<line x1="220.4" y1="632.5" x2="224.4" y2="632.5" stroke="#000" stroke-width="1"/>
<line x1="220.4" y1="641.5" x2="224.4" y2="641.5" stroke="#000" stroke-width="1"/>
<circle cx="222.4" cy="637.3" r="1.9" fill="#000" stroke="none" stroke-width="0"/>
<line x1="256.5" y1="625.5" x2="256.5" y2="640.3" stroke="#000" stroke-width="1"/>
<line x1="254" y1="625.5" x2="258" y2="625.5" stroke="#000" stroke-width="1"/>
<line x1="254" y1="640.5" x2="258" y2="640.5" stroke="#000" stroke-width="1"/>
<circle cx="256" cy="632.9" r="1.9" fill="#000" stroke="none" stroke-width="0"/>
<line x1="289.5" y1="640.5" x2="289.5" y2="645.5" stroke="#000" stroke-width="1"/>
<line x1="287.6" y1="640.5" x2="291.6" y2="640.5" stroke="#000" stroke-width="1"/>
<line x1="287.6" y1="645.5" x2="291.6" y2="645.5" stroke="#000" stroke-width="1"/>
<circle cx="289.6" cy="642.8" r="1.9" fill="#000" stroke="none" stroke-width="0"/>
<rect x="338.1" y="641.2" width="3.2" height="3.2" fill="#e02020"/>
<text x="121.6" y="679" font-size="9.5" text-anchor="middle" fill="#000" stroke="#000" stroke-width="0.15" style="font-family:'Liberation Sans', sans-serif">0.2</text>
<text x="121.6" y="690.5" font-size="9" text-anchor="middle" fill="#000" stroke="#000" stroke-width="0.15" style="font-family:'Liberation Sans', sans-serif" stroke-opacity="0">(n=6)</text>
<text x="155.2" y="679" font-size="9.5" text-anchor="middle" fill="#000" stroke="#000" stroke-width="0.15" style="font-family:'Liberation Sans', sans-serif">1</text>
<text x="155.2" y="690.5" font-size="9" text-anchor="middle" fill="#000" stroke="#000" stroke-width="0.15" style="font-family:'Liberation Sans', sans-serif" stroke-opacity="0">(n=4)</text>
<text x="188.8" y="679" font-size="9.5" text-anchor="middle" fill="#000" stroke="#000" stroke-width="0.15" style="font-family:'Liberation Sans', sans-serif">2</text>
<text x="188.8" y="690.5" font-size="9" text-anchor="middle" fill="#000" stroke="#000" stroke-width="0.15" style="font-family:'Liberation Sans', sans-serif" stroke-opacity="0">(n=7)</text>
<text x="222.4" y="679" font-size="9.5" text-anchor="middle" fill="#000" stroke="#000" stroke-width="0.15" style="font-family:'Liberation Sans', sans-serif">5</text>
<text x="222.4" y="690.5" font-size="9" text-anchor="middle" fill="#000" stroke="#000" stroke-width="0.15" style="font-family:'Liberation Sans', sans-serif" stroke-opacity="0">(n=5)</text>
<text x="256" y="679" font-size="9.5" text-anchor="middle" fill="#000" stroke="#000" stroke-width="0.15" style="font-family:'Liberation Sans', sans-serif">10</text>
<text x="256" y="690.5" font-size="9" text-anchor="middle" fill="#000" stroke="#000" stroke-width="0.15" style="font-family:'Liberation Sans', sans-serif" stroke-opacity="0">(n=6)</text>
<text x="289.6" y="679" font-size="9.5" text-anchor="middle" fill="#000" stroke="#000" stroke-width="0.15" style="font-family:'Liberation Sans', sans-serif">20</text>
<text x="289.6" y="690.5" font-size="9" text-anchor="middle" fill="#000" stroke="#000" stroke-width="0.15" style="font-family:'Liberation Sans', sans-serif" stroke-opacity="0">(n=4)</text>
<text x="339.7" y="679" font-size="9.5" text-anchor="middle" fill="#000" stroke="#000" stroke-width="0.15" style="font-family:'Liberation Sans', sans-serif">4-AP</text>
<rect x="477.5" y="500.5" width="256.3" height="8.7" fill="#d9d9d9"/>
<line x1="477.5" y1="480" x2="477.5" y2="514.2" stroke="#3a3a3a" stroke-width="1.3"/>
<line x1="477" y1="514.2" x2="733.8" y2="514.2" stroke="#3a3a3a" stroke-width="1.3"/>
<line x1="469.9" y1="485.6" x2="477.5" y2="485.6" stroke="#3a3a3a" stroke-width="1.3"/>
<line x1="469.9" y1="497" x2="477.5" y2="497" stroke="#3a3a3a" stroke-width="1.3"/>
<line x1="469.9" y1="508.4" x2="477.5" y2="508.4" stroke="#3a3a3a" stroke-width="1.3"/>
<text x="464.9" y="489" font-size="9.5" text-anchor="end" fill="#000" stroke="#000" stroke-width="0.15" style="font-family:'Liberation Sans', sans-serif">0.5</text>
<text x="464.9" y="500.4" font-size="9.5" text-anchor="end" fill="#000" stroke="#000" stroke-width="0.15" style="font-family:'Liberation Sans', sans-serif">0.4</text>
<text x="464.9" y="511.8" font-size="9.5" text-anchor="end" fill="#000" stroke="#000" stroke-width="0.15" style="font-family:'Liberation Sans', sans-serif">0.3</text>
<line x1="509.3" y1="515.5" x2="509.3" y2="522" stroke="#3a3a3a" stroke-width="1.3"/>
<line x1="573.8" y1="515.5" x2="573.8" y2="522" stroke="#3a3a3a" stroke-width="1.3"/>
<line x1="637.5" y1="515.5" x2="637.5" y2="522" stroke="#3a3a3a" stroke-width="1.3"/>
<line x1="701.5" y1="515.5" x2="701.5" y2="522" stroke="#3a3a3a" stroke-width="1.3"/>
<rect x="477.5" y="537.2" width="256.3" height="9.8" fill="#d9d9d9"/>
<line x1="477.5" y1="524.9" x2="477.5" y2="559.3" stroke="#3a3a3a" stroke-width="1.3"/>
<line x1="477" y1="559.3" x2="733.8" y2="559.3" stroke="#3a3a3a" stroke-width="1.3"/>
<line x1="469.9" y1="529.9" x2="477.5" y2="529.9" stroke="#3a3a3a" stroke-width="1.3"/>
<line x1="469.9" y1="541.9" x2="477.5" y2="541.9" stroke="#3a3a3a" stroke-width="1.3"/>
<line x1="469.9" y1="554" x2="477.5" y2="554" stroke="#3a3a3a" stroke-width="1.3"/>
<text x="464.9" y="533.3" font-size="9.5" text-anchor="end" fill="#000" stroke="#000" stroke-width="0.15" style="font-family:'Liberation Sans', sans-serif">−60</text>
<text x="464.9" y="545.3" font-size="9.5" text-anchor="end" fill="#000" stroke="#000" stroke-width="0.15" style="font-family:'Liberation Sans', sans-serif">−65</text>
<text x="464.9" y="557.4" font-size="9.5" text-anchor="end" fill="#000" stroke="#000" stroke-width="0.15" style="font-family:'Liberation Sans', sans-serif">−70</text>
<line x1="509.3" y1="560.6" x2="509.3" y2="567.1" stroke="#3a3a3a" stroke-width="1.3"/>
<line x1="573.8" y1="560.6" x2="573.8" y2="567.1" stroke="#3a3a3a" stroke-width="1.3"/>
<line x1="637.5" y1="560.6" x2="637.5" y2="567.1" stroke="#3a3a3a" stroke-width="1.3"/>
<line x1="701.5" y1="560.6" x2="701.5" y2="567.1" stroke="#3a3a3a" stroke-width="1.3"/>
<rect x="477.5" y="598.5" width="256.3" height="7.7" fill="#d9d9d9"/>
<line x1="477.5" y1="575" x2="477.5" y2="609.2" stroke="#3a3a3a" stroke-width="1.3"/>
<line x1="477" y1="609.2" x2="733.8" y2="609.2" stroke="#3a3a3a" stroke-width="1.3"/>
<line x1="469.9" y1="579" x2="477.5" y2="579" stroke="#3a3a3a" stroke-width="1.3"/>
<line x1="469.9" y1="600.3" x2="477.5" y2="600.3" stroke="#3a3a3a" stroke-width="1.3"/>
<text x="464.9" y="582.4" font-size="9.5" text-anchor="end" fill="#000" stroke="#000" stroke-width="0.15" style="font-family:'Liberation Sans', sans-serif">100</text>
<text x="464.9" y="603.7" font-size="9.5" text-anchor="end" fill="#000" stroke="#000" stroke-width="0.15" style="font-family:'Liberation Sans', sans-serif">50</text>
<line x1="509.3" y1="610.5" x2="509.3" y2="617" stroke="#3a3a3a" stroke-width="1.3"/>
<line x1="573.8" y1="610.5" x2="573.8" y2="617" stroke="#3a3a3a" stroke-width="1.3"/>
<line x1="637.5" y1="610.5" x2="637.5" y2="617" stroke="#3a3a3a" stroke-width="1.3"/>
<line x1="701.5" y1="610.5" x2="701.5" y2="617" stroke="#3a3a3a" stroke-width="1.3"/>
<rect x="477.5" y="644" width="256.3" height="9" fill="#d9d9d9"/>
<line x1="477.5" y1="622.5" x2="477.5" y2="656.8" stroke="#3a3a3a" stroke-width="1.3"/>
<line x1="477" y1="656.8" x2="733.8" y2="656.8" stroke="#3a3a3a" stroke-width="1.3"/>
<line x1="469.9" y1="622.5" x2="477.5" y2="622.5" stroke="#3a3a3a" stroke-width="1.3"/>
<line x1="469.9" y1="630.3" x2="477.5" y2="630.3" stroke="#3a3a3a" stroke-width="1.3"/>
<line x1="469.9" y1="638" x2="477.5" y2="638" stroke="#3a3a3a" stroke-width="1.3"/>
<line x1="469.9" y1="645.6" x2="477.5" y2="645.6" stroke="#3a3a3a" stroke-width="1.3"/>
<line x1="469.9" y1="653.3" x2="477.5" y2="653.3" stroke="#3a3a3a" stroke-width="1.3"/>
<text x="464.9" y="633.7" font-size="9.5" text-anchor="end" fill="#000" stroke="#000" stroke-width="0.15" style="font-family:'Liberation Sans', sans-serif">200</text>
<text x="464.9" y="649" font-size="9.5" text-anchor="end" fill="#000" stroke="#000" stroke-width="0.15" style="font-family:'Liberation Sans', sans-serif">100</text>
<line x1="509.3" y1="658.1" x2="509.3" y2="664.6" stroke="#3a3a3a" stroke-width="1.3"/>
<line x1="573.8" y1="658.1" x2="573.8" y2="664.6" stroke="#3a3a3a" stroke-width="1.3"/>
<line x1="637.5" y1="658.1" x2="637.5" y2="664.6" stroke="#3a3a3a" stroke-width="1.3"/>
<line x1="701.5" y1="658.1" x2="701.5" y2="664.6" stroke="#3a3a3a" stroke-width="1.3"/>
<text x="430" y="494" font-size="12.8" text-anchor="middle" fill="#000" stroke="#000" stroke-width="0.3" style="font-family:'Liberation Sans', sans-serif">SW</text>
<text x="430" y="508.8" font-size="12.8" text-anchor="middle" fill="#000" stroke="#000" stroke-width="0.3" style="font-family:'Liberation Sans', sans-serif">[ms]</text>
<text x="420.2" y="538.2" font-size="12.8" text-anchor="start" fill="#000" stroke="#000" stroke-width="0.3" style="font-family:'Liberation Sans', sans-serif">V</text>
<text x="429" y="542.8" font-size="7" text-anchor="start" fill="#000" stroke="#000" stroke-width="0.15" style="font-family:'Liberation Sans', sans-serif">rest</text>
<text x="430.3" y="554" font-size="12.8" text-anchor="middle" fill="#000" stroke="#000" stroke-width="0.3" style="font-family:'Liberation Sans', sans-serif">[mV]</text>
<text x="422.6" y="587" font-size="12.8" text-anchor="start" fill="#000" stroke="#000" stroke-width="0.3" style="font-family:'Liberation Sans', sans-serif">R</text>
<text x="433" y="590.5" font-size="7" text-anchor="start" fill="#000" stroke="#000" stroke-width="0.15" style="font-family:'Liberation Sans', sans-serif">in</text>
<text x="430.5" y="603.5" font-size="12.8" text-anchor="middle" fill="#000" stroke="#000" stroke-width="0.3" style="font-family:'Liberation Sans', sans-serif">[MΩ]</text>
<text x="430.6" y="635.5" font-size="12.8" text-anchor="middle" fill="#000" stroke="#000" stroke-width="0.3" style="font-family:'Liberation Sans', sans-serif">FR</text>
<text x="430.6" y="649.8" font-size="12.8" text-anchor="middle" fill="#000" stroke="#000" stroke-width="0.3" style="font-family:'Liberation Sans', sans-serif">[sp/s]</text>
<line x1="500.5" y1="502.3" x2="500.5" y2="505.5" stroke="#000" stroke-width="1"/>
<line x1="498.8" y1="502.5" x2="502.8" y2="502.5" stroke="#000" stroke-width="1"/>
<line x1="498.8" y1="505.5" x2="502.8" y2="505.5" stroke="#000" stroke-width="1"/>
<circle cx="500.8" cy="503.9" r="1.9" fill="#000" stroke="none" stroke-width="0"/>
<line x1="517.5" y1="502.6" x2="517.5" y2="505.2" stroke="#e02020" stroke-width="1"/>
<line x1="515.3" y1="502.5" x2="519.3" y2="502.5" stroke="#e02020" stroke-width="1"/>
<line x1="515.3" y1="505.5" x2="519.3" y2="505.5" stroke="#e02020" stroke-width="1"/>
<circle cx="517.3" cy="503.9" r="1.9" fill="#e02020" stroke="none" stroke-width="0"/>
<rect x="563.7" y="500.7" width="3.2" height="2.8" fill="#000"/>
<line x1="581.5" y1="497.8" x2="581.5" y2="501.4" stroke="#e02020" stroke-width="1"/>
<line x1="579.8" y1="497.5" x2="583.8" y2="497.5" stroke="#e02020" stroke-width="1"/>
<line x1="579.8" y1="501.5" x2="583.8" y2="501.5" stroke="#e02020" stroke-width="1"/>
<circle cx="581.8" cy="499.6" r="1.9" fill="#e02020" stroke="none" stroke-width="0"/>
<line x1="629.5" y1="500.6" x2="629.5" y2="507.6" stroke="#000" stroke-width="1"/>
<line x1="627" y1="500.5" x2="631" y2="500.5" stroke="#000" stroke-width="1"/>
<line x1="627" y1="507.5" x2="631" y2="507.5" stroke="#000" stroke-width="1"/>
<circle cx="629" cy="504.2" r="1.9" fill="#000" stroke="none" stroke-width="0"/>
<line x1="645.5" y1="489.5" x2="645.5" y2="507.9" stroke="#e02020" stroke-width="1"/>
<line x1="643.5" y1="489.5" x2="647.5" y2="489.5" stroke="#e02020" stroke-width="1"/>
<line x1="643.5" y1="507.5" x2="647.5" y2="507.5" stroke="#e02020" stroke-width="1"/>
<circle cx="645.5" cy="498.7" r="1.9" fill="#e02020" stroke="none" stroke-width="0"/>
<line x1="693.5" y1="502" x2="693.5" y2="508.3" stroke="#000" stroke-width="1"/>
<line x1="691" y1="502.5" x2="695" y2="502.5" stroke="#000" stroke-width="1"/>
<line x1="691" y1="508.5" x2="695" y2="508.5" stroke="#000" stroke-width="1"/>
<circle cx="693" cy="505.8" r="1.9" fill="#000" stroke="none" stroke-width="0"/>
<line x1="709.5" y1="480.2" x2="709.5" y2="494.1" stroke="#e02020" stroke-width="1"/>
<line x1="707.5" y1="480.5" x2="711.5" y2="480.5" stroke="#e02020" stroke-width="1"/>
<line x1="707.5" y1="494.5" x2="711.5" y2="494.5" stroke="#e02020" stroke-width="1"/>
<circle cx="709.5" cy="486.7" r="1.9" fill="#e02020" stroke="none" stroke-width="0"/>
<line x1="500.5" y1="540.5" x2="500.5" y2="547.3" stroke="#000" stroke-width="1"/>
<line x1="498.8" y1="540.5" x2="502.8" y2="540.5" stroke="#000" stroke-width="1"/>
<line x1="498.8" y1="547.5" x2="502.8" y2="547.5" stroke="#000" stroke-width="1"/>
<circle cx="500.8" cy="543.9" r="1.9" fill="#000" stroke="none" stroke-width="0"/>
<line x1="517.5" y1="537.9" x2="517.5" y2="544.9" stroke="#e02020" stroke-width="1"/>
<line x1="515.3" y1="537.5" x2="519.3" y2="537.5" stroke="#e02020" stroke-width="1"/>
<line x1="515.3" y1="544.5" x2="519.3" y2="544.5" stroke="#e02020" stroke-width="1"/>
<circle cx="517.3" cy="541.3" r="1.9" fill="#e02020" stroke="none" stroke-width="0"/>
<line x1="565.5" y1="538.6" x2="565.5" y2="548.1" stroke="#000" stroke-width="1"/>
<line x1="563.3" y1="538.5" x2="567.3" y2="538.5" stroke="#000" stroke-width="1"/>
<line x1="563.3" y1="548.5" x2="567.3" y2="548.5" stroke="#000" stroke-width="1"/>
<circle cx="565.3" cy="543.3" r="1.9" fill="#000" stroke="none" stroke-width="0"/>
<line x1="581.5" y1="533.4" x2="581.5" y2="551" stroke="#e02020" stroke-width="1"/>
<line x1="579.8" y1="533.5" x2="583.8" y2="533.5" stroke="#e02020" stroke-width="1"/>
<line x1="579.8" y1="551.5" x2="583.8" y2="551.5" stroke="#e02020" stroke-width="1"/>
<circle cx="581.8" cy="542" r="1.9" fill="#e02020" stroke="none" stroke-width="0"/>
<line x1="629.5" y1="540.5" x2="629.5" y2="551" stroke="#000" stroke-width="1"/>
<line x1="627" y1="540.5" x2="631" y2="540.5" stroke="#000" stroke-width="1"/>
<line x1="627" y1="551.5" x2="631" y2="551.5" stroke="#000" stroke-width="1"/>
<circle cx="629" cy="545.7" r="1.9" fill="#000" stroke="none" stroke-width="0"/>
<line x1="645.5" y1="531" x2="645.5" y2="545.7" stroke="#e02020" stroke-width="1"/>
<line x1="643.5" y1="531.5" x2="647.5" y2="531.5" stroke="#e02020" stroke-width="1"/>
<line x1="643.5" y1="545.5" x2="647.5" y2="545.5" stroke="#e02020" stroke-width="1"/>
<circle cx="645.5" cy="538" r="1.9" fill="#e02020" stroke="none" stroke-width="0"/>
<line x1="693.5" y1="541.5" x2="693.5" y2="550.4" stroke="#000" stroke-width="1"/>
<line x1="691" y1="541.5" x2="695" y2="541.5" stroke="#000" stroke-width="1"/>
<line x1="691" y1="550.5" x2="695" y2="550.5" stroke="#000" stroke-width="1"/>
<circle cx="693" cy="545.7" r="1.9" fill="#000" stroke="none" stroke-width="0"/>
<line x1="709.5" y1="537.4" x2="709.5" y2="555.9" stroke="#e02020" stroke-width="1"/>
<line x1="707.5" y1="537.5" x2="711.5" y2="537.5" stroke="#e02020" stroke-width="1"/>
<line x1="707.5" y1="555.5" x2="711.5" y2="555.5" stroke="#e02020" stroke-width="1"/>
<circle cx="709.5" cy="546.4" r="1.9" fill="#e02020" stroke="none" stroke-width="0"/>
<line x1="500.5" y1="594" x2="500.5" y2="604.3" stroke="#000" stroke-width="1"/>
<line x1="498.8" y1="594.5" x2="502.8" y2="594.5" stroke="#000" stroke-width="1"/>
<line x1="498.8" y1="604.5" x2="502.8" y2="604.5" stroke="#000" stroke-width="1"/>
<circle cx="500.8" cy="598.9" r="1.9" fill="#000" stroke="none" stroke-width="0"/>
<line x1="517.5" y1="596.3" x2="517.5" y2="603.9" stroke="#e02020" stroke-width="1"/>
<line x1="515.3" y1="596.5" x2="519.3" y2="596.5" stroke="#e02020" stroke-width="1"/>
<line x1="515.3" y1="603.5" x2="519.3" y2="603.5" stroke="#e02020" stroke-width="1"/>
<circle cx="517.3" cy="600.9" r="1.9" fill="#e02020" stroke="none" stroke-width="0"/>
<line x1="565.5" y1="598.4" x2="565.5" y2="604.4" stroke="#000" stroke-width="1"/>
<line x1="563.3" y1="598.5" x2="567.3" y2="598.5" stroke="#000" stroke-width="1"/>
<line x1="563.3" y1="604.5" x2="567.3" y2="604.5" stroke="#000" stroke-width="1"/>
<circle cx="565.3" cy="601.8" r="1.9" fill="#000" stroke="none" stroke-width="0"/>
<line x1="581.5" y1="599.6" x2="581.5" y2="604.9" stroke="#e02020" stroke-width="1"/>
<line x1="579.8" y1="599.5" x2="583.8" y2="599.5" stroke="#e02020" stroke-width="1"/>
<line x1="579.8" y1="604.5" x2="583.8" y2="604.5" stroke="#e02020" stroke-width="1"/>
<circle cx="581.8" cy="602" r="1.9" fill="#e02020" stroke="none" stroke-width="0"/>
<line x1="629.5" y1="599.6" x2="629.5" y2="607.1" stroke="#000" stroke-width="1"/>
<line x1="627" y1="599.5" x2="631" y2="599.5" stroke="#000" stroke-width="1"/>
<line x1="627" y1="607.5" x2="631" y2="607.5" stroke="#000" stroke-width="1"/>
<circle cx="629" cy="603.3" r="1.9" fill="#000" stroke="none" stroke-width="0"/>
<line x1="645.5" y1="589.5" x2="645.5" y2="604.2" stroke="#e02020" stroke-width="1"/>
<line x1="643.5" y1="589.5" x2="647.5" y2="589.5" stroke="#e02020" stroke-width="1"/>
<line x1="643.5" y1="604.5" x2="647.5" y2="604.5" stroke="#e02020" stroke-width="1"/>
<circle cx="645.5" cy="597.1" r="1.9" fill="#e02020" stroke="none" stroke-width="0"/>
<line x1="693.5" y1="599.6" x2="693.5" y2="604.9" stroke="#000" stroke-width="1"/>
<line x1="691" y1="599.5" x2="695" y2="599.5" stroke="#000" stroke-width="1"/>
<line x1="691" y1="604.5" x2="695" y2="604.5" stroke="#000" stroke-width="1"/>
<circle cx="693" cy="602" r="1.9" fill="#000" stroke="none" stroke-width="0"/>
<line x1="709.5" y1="577.1" x2="709.5" y2="603.3" stroke="#e02020" stroke-width="1"/>
<line x1="707.5" y1="577.5" x2="711.5" y2="577.5" stroke="#e02020" stroke-width="1"/>
<line x1="707.5" y1="603.5" x2="711.5" y2="603.5" stroke="#e02020" stroke-width="1"/>
<circle cx="709.5" cy="590.4" r="1.9" fill="#e02020" stroke="none" stroke-width="0"/>
<line x1="500.5" y1="642.9" x2="500.5" y2="653.8" stroke="#000" stroke-width="1"/>
<line x1="498.8" y1="642.5" x2="502.8" y2="642.5" stroke="#000" stroke-width="1"/>
<line x1="498.8" y1="653.5" x2="502.8" y2="653.5" stroke="#000" stroke-width="1"/>
<circle cx="500.8" cy="648.3" r="1.9" fill="#000" stroke="none" stroke-width="0"/>
<line x1="517.5" y1="640.2" x2="517.5" y2="653.3" stroke="#e02020" stroke-width="1"/>
<line x1="515.3" y1="640.5" x2="519.3" y2="640.5" stroke="#e02020" stroke-width="1"/>
<line x1="515.3" y1="653.5" x2="519.3" y2="653.5" stroke="#e02020" stroke-width="1"/>
<circle cx="517.3" cy="646.6" r="1.9" fill="#e02020" stroke="none" stroke-width="0"/>
<line x1="565.5" y1="643.6" x2="565.5" y2="653.2" stroke="#000" stroke-width="1"/>
<line x1="563.3" y1="643.5" x2="567.3" y2="643.5" stroke="#000" stroke-width="1"/>
<line x1="563.3" y1="653.5" x2="567.3" y2="653.5" stroke="#000" stroke-width="1"/>
<circle cx="565.3" cy="648.2" r="1.9" fill="#000" stroke="none" stroke-width="0"/>
<line x1="581.5" y1="627.3" x2="581.5" y2="638.7" stroke="#e02020" stroke-width="1"/>
<line x1="579.8" y1="627.5" x2="583.8" y2="627.5" stroke="#e02020" stroke-width="1"/>
<line x1="579.8" y1="638.5" x2="583.8" y2="638.5" stroke="#e02020" stroke-width="1"/>
<circle cx="581.8" cy="632.8" r="1.9" fill="#e02020" stroke="none" stroke-width="0"/>
<line x1="629.5" y1="638.7" x2="629.5" y2="648.8" stroke="#000" stroke-width="1"/>
<line x1="627" y1="638.5" x2="631" y2="638.5" stroke="#000" stroke-width="1"/>
<line x1="627" y1="648.5" x2="631" y2="648.5" stroke="#000" stroke-width="1"/>
<circle cx="629" cy="643.6" r="1.9" fill="#000" stroke="none" stroke-width="0"/>
<line x1="645.5" y1="636.5" x2="645.5" y2="651" stroke="#e02020" stroke-width="1"/>
<line x1="643.5" y1="636.5" x2="647.5" y2="636.5" stroke="#e02020" stroke-width="1"/>
<line x1="643.5" y1="651.5" x2="647.5" y2="651.5" stroke="#e02020" stroke-width="1"/>
<circle cx="645.5" cy="643.6" r="1.9" fill="#e02020" stroke="none" stroke-width="0"/>
<line x1="693.5" y1="634" x2="693.5" y2="645.1" stroke="#000" stroke-width="1"/>
<line x1="691" y1="634.5" x2="695" y2="634.5" stroke="#000" stroke-width="1"/>
<line x1="691" y1="645.5" x2="695" y2="645.5" stroke="#000" stroke-width="1"/>
<circle cx="693" cy="639" r="1.9" fill="#000" stroke="none" stroke-width="0"/>
<rect x="707.9" y="652.6" width="3.2" height="2.8" fill="#e02020"/>
<text x="509.3" y="678.6" font-size="10" text-anchor="middle" fill="#000" stroke="#000" stroke-width="0.15" style="font-family:'Liberation Sans', sans-serif">Stromatotoxin</text>
<text x="573.8" y="678.6" font-size="10" text-anchor="middle" fill="#000" stroke="#000" stroke-width="0.15" style="font-family:'Liberation Sans', sans-serif">α−DTX</text>
<text x="637.5" y="678.6" font-size="10" text-anchor="middle" fill="#000" stroke="#000" stroke-width="0.15" style="font-family:'Liberation Sans', sans-serif">SB</text>
<text x="701.5" y="678.6" font-size="10" text-anchor="middle" fill="#000" stroke="#000" stroke-width="0.15" style="font-family:'Liberation Sans', sans-serif">SB + α−DTX</text>
<text x="728.9" y="679.6" font-size="14.5" text-anchor="start" fill="#e82020" stroke="#e82020" stroke-width="0.3" style="font-family:'Liberation Sans', sans-serif">*</text>
<text x="378.3" y="26.6" font-size="12" text-anchor="start" fill="#000" stroke="#000" stroke-width="0.3" style="font-family:'Liberation Serif', serif">I</text>
<text x="374.4" y="125.2" font-size="12" text-anchor="start" fill="#000" stroke="#000" stroke-width="0.3" style="font-family:'Liberation Serif', serif">II</text>
<text x="372.1" y="229" font-size="12" text-anchor="start" fill="#000" stroke="#000" stroke-width="0.3" style="font-family:'Liberation Serif', serif">III</text>
<text x="372.4" y="329.6" font-size="12" text-anchor="start" fill="#000" stroke="#000" stroke-width="0.3" style="font-family:'Liberation Serif', serif">IV</text>
<text x="512.8" y="25.6" font-size="12.8" text-anchor="start" fill="#000" stroke="#000" stroke-width="0.3" style="font-family:'Liberation Sans', sans-serif">Stromatotoxin</text>
<text x="532.2" y="129" font-size="12.8" text-anchor="start" fill="#000" stroke="#000" stroke-width="0.3" style="font-family:'Liberation Sans', sans-serif">α−DTX</text>
<text x="543.8" y="231.6" font-size="12.8" text-anchor="start" fill="#000" stroke="#000" stroke-width="0.3" style="font-family:'Liberation Sans', sans-serif">SB</text>
<text x="516.7" y="335.2" font-size="12.8" text-anchor="start" fill="#000" stroke="#000" stroke-width="0.3" style="font-family:'Liberation Sans', sans-serif">SB + α−DTX</text>
<text x="589.4" y="332.6" font-size="12" text-anchor="start" fill="#f03030" stroke="#f03030" stroke-width="0.3" style="font-family:'Liberation Sans', sans-serif">*</text>
<line x1="456.9" y1="52.3" x2="456.9" y2="69" stroke="#111" stroke-width="1.7"/>
<text x="460.1" y="64.3" font-size="9.7" text-anchor="start" fill="#000" stroke="#000" stroke-width="0.15" style="font-family:'Liberation Sans', sans-serif">20 mV</text>
<polyline points="385.8,94.3 390.6,94.3 390.6,94.3 390.95,93.13 391.15,90.91 391.4,22.4 391.7,98.91 391.7,98.88 392.05,97.26 392.4,95.96 392.75,94.91 393.15,93.45 393.4,27.2 393.7,98.68 393.7,98.65 394.05,97.04 394.4,95.73 394.75,94.68 395.15,93.16 395.4,29.6 395.7,98.4 395.7,98.33 396.05,96.67 396.4,95.32 396.75,94.21 397.1,93.31 397.55,91.95 397.8,31.2 398.1,97.8 398.1,97.72 398.45,96.07 398.8,94.72 399.15,93.61 399.5,92.71 399.85,91.97 400.2,91.35 400.55,90.84 400.9,90.42 401.05,90.01 401.3,33.6 401.6,96.92 401.6,96.85 401.95,95.19 402.3,93.84 402.65,92.74 403,91.83 403.35,91.09 403.7,90.48 404.05,89.97 404.4,89.54 404.75,89.18 405.1,88.88 405.45,88.63 405.8,88.41 406.25,88.06 406.5,34.4 406.8,95.69 406.8,95.62 407.15,93.98 407.5,92.64 407.85,91.56 408.2,90.67 408.55,89.94 408.9,89.34 409.25,88.84 409.6,88.43 409.95,88.09 410.3,87.79 410.75,87.33 411,34.8 411.3,94.75 411.3,94.69 411.65,93.04 412,91.71 412.35,90.62 412.7,89.73 413.05,89 413.4,88.4 413.75,87.91 414.1,87.49 414.45,87.15 414.8,86.86 415.15,86.61 415.5,86.39 415.85,86.21 416.2,86.04 416.55,85.89 416.9,85.76 417.15,85.58 417.4,37.2 417.7,93.41 417.7,93.34 418.05,91.69 418.4,90.34 418.75,89.25 419.1,88.35 419.45,87.61 419.8,87.01 420.15,86.5 420.5,86.08 420.85,85.73 421.2,85.43 421.55,85.17 421.9,84.95 422.25,84.75 422.6,84.58 422.95,84.43 423.3,84.29 423.65,84.16 424,84.04 424.35,83.93 424.7,83.82 425.05,83.72 425.4,83.63 425.75,83.53 426.1,83.44 426.45,83.35 426.8,83.27 427.15,83.18 427.5,83.09 427.85,83.01 428.2,82.93 428.55,82.84 428.9,82.76 429.25,82.68 429.6,82.6 429.75,82.5 430,42.3 430.3,90.5 430.3,90.88 430.65,89.74 431,88.92 431.35,88.34 431.7,87.96 432.05,87.65 432.4,86.93 432.75,86.31 433.1,85.77 433.45,85.3 433.8,84.89 434.15,84.51 434.5,84.17 434.85,83.86 435.2,83.57 435.55,83.3 435.9,83.05 436.25,82.8 436.6,82.57 436.95,82.34 437.3,82.12 437.65,81.9 438,81.69 438.35,81.48 438.7,81.27 439.05,81.07 439.4,80.86 439.75,80.66 440.1,80.51 440.45,80.48 440.8,80.44 441.15,80.41 441.5,80.38 441.85,80.35 442.2,80.32 442.55,80.29 442.9,80.26 443.25,80.23 443.6,80.2 443.95,80.17 444.3,80.14 444.65,80.11 445,80.08 445.35,80.05 445.7,80.03 446.05,80.03 446.4,80.2 446.75,80.38 447.1,80.55 447.45,80.73 447.8,80.9 448.15,80.91 448.5,80.69 448.85,80.47 449.2,80.25 449.55,80.03 449.9,79.81 450.25,79.59 450.6,79.38 450.95,79.16 451.3,78.94 451.65,78.72 452,78.72 452.6,81.29 453.2,83.45 453.8,85.28 454.4,86.83 455,88.13 455.6,89.23 456.2,90.16 456.8,90.95 457.4,91.62 458,92.18 458.6,92.66 459.2,93.06 459.8,93.4 460.4,93.7 461,93.94 461.6,94.16 462.2,94.34 462.8,94.49 463.4,94.62 464,94.73 464.6,94.83 465.2,94.92 465.8,94.99 466.4,95.05 467,95.11 467.6,95.16 468.2,95.2 468.8,95.24 469.4,95.28 470,95.31 470.6,95.34 471.2,95.37 471.8,95.39 472.4,95.41 473,95.43 473.6,95.45 474.2,95.47 474.8,95.49 475.4,95.51 476,95.53 476.6,95.54 477.2,95.56 477.8,95.57 478.4,95.59" fill="none" stroke="#3a3a3a" stroke-width="0.85" stroke-linejoin="round"/>
<line x1="382.6" y1="92.5" x2="385" y2="92.5" stroke="#222" stroke-width="1"/>
<polyline points="496.8,96.7 501.5,96.7 501.5,96.7 501.85,95.37 502.15,92.74 502.4,23.2 502.7,102.74 502.7,102.66 503.05,100.59 503.4,98.91 503.75,97.55 504.15,95.63 504.4,27.2 504.7,102.17 504.7,102.09 505.05,100.01 505.4,98.22 505.75,96.74 506.15,94.62 506.4,28 506.7,101.16 506.7,100.98 507.05,98.81 507.4,97.02 507.75,95.54 508.1,94.31 508.45,93.28 508.8,92.41 508.95,91.58 509.2,28.8 509.5,99.48 509.5,99.3 509.85,97.13 510.2,95.4 510.55,94.03 510.9,92.91 511.25,91.99 511.6,91.23 511.95,90.61 512.3,90.08 512.65,89.64 513,89.26 513.35,88.94 513.7,88.67 514.05,88.42 514.4,88.21 514.75,88.02 515.1,87.84 515.45,87.69 515.8,87.54 516.15,87.4 516.5,87.27 516.85,87.06 517.1,31.2 517.4,96.97 517.4,96.88 517.75,94.8 518.1,93.11 518.45,91.73 518.8,90.61 519.15,89.68 519.5,88.91 519.85,88.27 520.2,87.74 520.55,87.29 520.9,86.9 521.25,86.57 521.6,86.29 521.95,86.04 522.3,85.81 522.65,85.61 523,85.43 523.35,85.26 523.7,85.1 524.05,84.95 524.4,84.81 524.75,84.68 525.1,84.56 525.45,84.47 525.8,84.38 526.15,84.3 526.5,84.21 526.85,84.13 527.2,84.05 527.55,83.97 527.9,83.89 528.25,83.81 528.6,83.74 528.95,83.66 529.3,83.58 529.65,83.51 530,83.43 530.35,83.36 530.7,83.28 531.05,83.21 531.4,83.13 531.75,83.05 532.15,83.05 532.4,37.9 532.7,93.05 532.7,93.09 533.05,91.17 533.4,89.63 533.75,88.41 534.1,87.43 534.45,86.66 534.8,86.04 535.15,85.56 535.5,85.18 535.85,84.88 536.2,84.65 536.55,84.47 536.9,84.34 537.25,84.24 537.6,84.17 537.95,84.12 538.35,84.08 538.6,36.4 538.9,93.83 538.9,93.86 539.25,91.94 539.6,90.41 539.95,89.18 540.3,88.17 540.65,87.35 541,86.69 541.35,86.16 541.7,85.74 542.05,85.4 542.4,85.12 542.75,84.9 543.1,84.72 543.45,84.58 543.8,84.47 544.15,84.38 544.5,84.3 544.85,84.24 545.2,84.19 545.55,84.16 545.9,84.13 546.05,84.1 546.3,36 546.6,94 546.6,94 546.95,92.04 547.3,90.46 547.65,89.19 548,88.17 548.35,87.28 548.7,86.56 549.05,85.97 549.4,85.48 549.75,85.07 550.1,84.73 550.45,84.44 550.8,84.2 551.15,83.99 551.5,83.81 551.85,83.65 552.2,83.51 552.55,83.39 552.9,83.28 553.25,83.17 553.6,83.08 553.95,82.99 554.3,82.9 554.65,82.82 555,82.74 555.35,82.66 555.7,82.59 556.05,82.52 556.4,82.47 556.75,82.42 557.1,82.38 557.45,82.33 557.8,82.28 558.15,82.24 558.5,82.19 558.85,82.15 559.2,82.1 559.55,82.06 559.9,82.01 560.25,82.14 560.6,82.34 560.95,82.54 561.3,82.74 561.65,82.94 562,83.14 562.35,83.34 562.7,83.54 563.05,83.74 563.4,83.94 563.5,83.94 564.1,85.92 564.7,87.59 565.3,89 565.9,90.18 566.5,91.18 567.1,92.03 567.7,92.74 568.3,93.34 568.9,93.85 569.5,94.28 570.1,94.64 570.7,94.94 571.3,95.2 571.9,95.42 572.5,95.6 573.1,95.76 573.7,95.89 574.3,96 574.9,96.1 575.5,96.18 576.1,96.25 576.7,96.31 577.3,96.36 577.9,96.4 578.5,96.44 579.1,96.47 579.7,96.5 580.3,96.52 580.9,96.54 581.5,96.56 582.1,96.58 582.7,96.59 583.3,96.6 583.9,96.61 584.5,96.63 585.1,96.63 585.7,96.64 586.3,96.65 586.9,96.66 587.5,96.67 588.1,96.67 588.7,96.68 589.3,96.68 589.9,96.69" fill="none" stroke="#f05050" stroke-width="0.85" stroke-linejoin="round"/>
<line x1="494" y1="92.5" x2="496.4" y2="92.5" stroke="#222" stroke-width="1"/>
<polyline points="385,201.7 390.6,201.7 390.6,201.7 390.95,200.35 391.15,197.66 391.4,124.2 391.7,206.66 391.7,206.53 392.05,204.61 392.4,203.04 392.75,201.75 393.15,199.92 393.4,128.6 393.7,205.81 393.7,205.68 394.05,203.76 394.4,202.19 394.75,200.9 395.1,199.84 395.45,198.41 395.7,131.4 396,204.83 396,204.7 396.35,202.78 396.7,201.22 397.05,199.92 397.4,198.86 397.75,197.97 398.1,197.23 398.45,196.61 398.8,196.07 399.15,195.33 399.4,133.4 399.7,203.26 399.7,203.13 400.05,201.22 400.4,199.73 400.75,198.52 401.1,197.53 401.45,196.72 401.8,196.06 402.15,195.52 402.5,195.06 402.85,194.69 403.15,194.21 403.4,133.4 403.7,202.32 403.7,202.26 404.05,200.42 404.4,198.93 404.75,197.72 405.1,196.73 405.45,195.92 405.8,195.26 406.15,194.72 406.5,194.26 406.85,193.89 407.2,193.57 407.55,193.3 407.9,193.07 408.25,192.87 408.6,192.7 408.95,192.55 409.3,192.41 409.65,192.29 409.95,192.1 410.2,135 410.5,200.95 410.5,200.88 410.85,199.02 411.2,197.51 411.55,196.28 411.9,195.28 412.25,194.45 412.6,193.77 412.95,193.21 413.3,192.74 413.65,192.34 414,192.01 414.35,191.72 414.7,191.48 415.05,191.26 415.4,191.07 415.85,190.75 416.1,136.2 416.4,199.47 416.4,199.4 416.75,197.54 417.1,196.04 417.45,194.81 417.8,193.8 418.15,192.98 418.5,192.3 418.85,191.73 419.2,191.26 419.55,190.87 419.9,190.53 420.25,190.25 420.6,190 420.95,189.79 421.3,189.6 421.65,189.43 422,189.27 422.35,189.13 422.7,189 423.05,188.88 423.4,188.76 423.75,188.65 424.1,188.55 424.45,188.45 424.8,188.35 425.15,188.25 425.5,188.16 425.85,188.06 426.25,188.06 426.5,138.2 426.8,197.04 426.8,197.07 427.15,195.33 427.5,193.94 427.85,192.82 428.2,191.94 428.55,191.23 428.9,190.66 429.25,190.22 429.6,189.86 429.95,189.59 430.3,189.37 430.65,189.2 431,189.07 431.35,188.97 431.7,188.9 432.05,188.82 432.4,188.66 432.75,188.5 433.1,188.36 433.45,188.23 433.8,188.1 434.15,187.98 434.5,187.86 434.85,187.74 435.2,187.63 435.55,187.52 435.9,187.42 436.25,187.31 436.6,187.21 436.95,187.1 437.3,187 437.65,186.9 438,186.79 438.35,186.69 438.7,186.59 439.05,186.95 439.3,141.8 439.6,195.95 439.6,196.4 439.95,195.16 440.3,194.26 440.65,193.64 441,193.25 441.35,193.04 441.7,192.97 442.05,192.9 442.4,192.19 442.75,191.56 443.1,190.99 443.45,190.47 443.8,189.99 444.15,189.54 444.5,189.11 444.85,188.7 445.2,188.31 445.55,187.93 445.9,187.57 446.25,187.54 446.6,187.65 446.95,187.77 447.3,187.89 447.65,188.02 448,188.15 448.35,188.28 448.7,188.41 449.05,188.53 449.4,188.58 449.75,188.62 450.1,188.67 450.45,188.72 450.8,188.77 451.15,188.81 451.5,188.86 451.85,188.91 452.2,188.96 452.5,188.96 453.1,190.86 453.7,192.46 454.3,193.82 454.9,194.97 455.5,195.94 456.1,196.76 456.7,197.45 457.3,198.04 457.9,198.54 458.5,198.96 459.1,199.32 459.7,199.63 460.3,199.89 460.9,200.11 461.5,200.3 462.1,200.47 462.7,200.61 463.3,200.73 463.9,200.83 464.5,200.92 465.1,201 465.7,201.07 466.3,201.13 466.9,201.18 467.5,201.23 468.1,201.28 468.7,201.31 469.3,201.35 469.9,201.38 470.5,201.41 471.1,201.44 471.7,201.46 472.3,201.49 472.9,201.51 473.5,201.53 474.1,201.56 474.7,201.58 475.3,201.6 475.9,201.61 476.5,201.63 477.1,201.65 477.7,201.67 478.3,201.69" fill="none" stroke="#3a3a3a" stroke-width="0.85" stroke-linejoin="round"/>
<line x1="382.6" y1="195.5" x2="385" y2="195.5" stroke="#222" stroke-width="1"/>
<polyline points="496.8,198.5 501.5,198.5 501.5,198.5 501.85,197.61 502.15,195.89 502.4,129.8 502.7,201.89 502.7,201.86 503.05,200.3 503.4,199.12 503.75,198.24 504.1,197.56 504.45,197.05 504.8,196.65 504.95,196.31 505.2,137.8 505.5,201.56 505.5,201.53 505.85,199.97 506.2,198.8 506.55,197.91 506.9,197.23 507.25,196.72 507.6,196.32 507.75,195.98 508,139.4 508.3,201.24 508.3,201.2 508.65,199.64 509,198.47 509.35,197.58 509.7,196.9 510.05,196.39 510.4,196 510.75,195.7 510.95,195.42 511.2,142.1 511.5,200.88 511.5,200.85 511.85,199.3 512.2,198.13 512.55,197.25 512.9,196.58 513.25,196.07 513.6,195.68 513.95,195.38 514.15,195.1 514.4,141.8 514.7,200.56 514.7,200.53 515.05,198.98 515.4,197.81 515.75,196.93 516.1,196.26 516.45,195.75 516.8,195.36 516.95,195.03 517.2,141.6 517.5,200.28 517.5,200.25 517.85,198.7 518.2,197.53 518.55,196.65 518.9,195.98 519.25,195.47 519.6,195.08 519.95,194.78 520.15,194.48 520.4,142.4 520.7,199.94 520.7,199.9 521.05,198.32 521.4,197.14 521.75,196.24 522.1,195.55 522.45,195.03 522.8,194.62 523.25,194.06 523.5,144.2 523.8,199.47 523.8,199.43 524.15,197.86 524.5,196.67 524.85,195.77 525.2,195.09 525.55,194.56 525.9,194.16 526.25,193.84 526.45,193.53 526.7,145 527,199 527,198.95 527.35,197.38 527.7,196.19 528.05,195.29 528.4,194.61 528.75,194.08 529.1,193.68 529.45,193.36 529.65,193.05 529.9,145.7 530.2,198.52 530.2,198.49 530.55,196.95 530.9,195.79 531.25,194.92 531.6,194.26 531.95,193.77 532.3,193.39 532.65,193.1 533,192.88 533.35,192.71 533.7,192.58 534.05,192.47 534.4,192.39 534.75,192.32 535.1,192.26 535.45,192.21 535.8,192.17 536.15,192.11 536.4,145.7 536.7,198.07 536.7,198.05 537.05,196.51 537.4,195.35 537.75,194.48 538.1,193.83 538.45,193.33 538.8,192.96 539.15,192.67 539.35,192.4 539.6,148.5 539.9,197.86 539.9,197.84 540.25,196.3 540.6,195.14 540.95,194.27 541.3,193.62 541.65,193.12 542,192.74 542.35,192.46 542.7,192.24 543.05,192.06 543.4,191.93 543.75,191.83 543.95,191.72 544.2,146.9 544.5,197.55 544.5,197.53 544.85,195.99 545.2,194.84 545.55,193.98 545.9,193.33 546.25,192.85 546.6,192.48 546.95,192.2 547.3,191.99 547.65,191.83 548,191.71 548.35,191.61 548.75,191.49 549,146.9 549.3,197.35 549.3,197.33 549.65,195.8 550,194.66 550.35,193.8 550.7,193.15 551.05,192.66 551.4,192.3 551.75,192.02 552.1,191.81 552.45,191.65 552.8,191.52 553.15,191.43 553.5,191.35 553.85,191.29 554.05,191.24 554.3,147.8 554.6,197.14 554.6,197.13 554.95,195.6 555.3,194.45 555.65,193.59 556,192.95 556.35,192.46 556.7,192.09 557.05,191.82 557.4,191.6 557.75,191.44 558.1,191.27 558.55,190.78 558.8,146.9 559.1,196.6 559.1,196.45 559.45,194.76 559.8,193.45 560.15,192.43 560.5,191.62 560.85,190.97 561.2,190.57 561.55,190.36 561.9,190.21 562.25,190.11 562.6,190.05 562.95,190.02 563.3,190.01 563.65,190.01 564,190.03 564.35,190.05 564.5,190.05 565.1,191.79 565.7,193.29 566.3,194.58 566.9,195.7 567.5,196.67 568.1,197.51 568.7,198.23 569.3,198.86 569.9,199.4 570.5,199.87 571.1,200.28 571.7,200.63 572.3,200.94 572.9,201.2 573.5,201.44 574.1,201.64 574.7,201.82 575.3,201.98 575.9,202.11 576.5,202.23 577.1,202.34 577.7,202.44 578.3,202.52 578.9,202.59 579.5,202.66 580.1,202.72 580.7,202.78 581.3,202.83 581.9,202.87 582.5,202.91 583.1,202.95 583.7,202.99 584.3,203.02 584.9,203.05 585.5,203.08 586.1,203.11 586.7,203.14 587.3,203.16 587.9,203.19 588.5,203.21 589.1,203.23 589.7,203.26" fill="none" stroke="#f05050" stroke-width="0.85" stroke-linejoin="round"/>
<line x1="494" y1="195.5" x2="496.4" y2="195.5" stroke="#222" stroke-width="1"/>
<polyline points="385.8,304.3 391,304.3 391,304.3 391.35,301.66 391.55,296.46 391.8,227.6 392.1,302.96 392.1,302.75 392.45,300.21 392.75,297.75 393,230.8 393.3,302.14 393.3,301.94 393.65,299.39 393.95,296.93 394.2,232.5 394.5,301.32 394.5,301.12 394.85,298.58 395.2,296.85 395.55,295.66 395.9,294.8 396.25,294.13 396.5,234.8 396.8,300.1 396.8,300.1 397.15,297.8 397.5,296.31 397.85,295.35 398.2,294.73 398.55,294.33 398.9,294.07 399.25,293.9 399.6,293.8 399.95,293.73 400.3,293.68 400.65,293.65 401,293.63 401.15,293.62 401.4,234.8 401.7,300.1 401.7,300.1 402.05,297.8 402.4,296.31 402.75,295.35 403.1,294.73 403.45,294.33 403.85,293.92 404.1,234.8 404.4,300.1 404.4,300.1 404.75,297.8 405.1,296.31 405.45,295.35 405.8,294.73 406.25,294.07 406.5,237.2 406.8,300.1 406.8,300.1 407.15,297.8 407.5,296.31 407.85,295.35 408.2,294.73 408.55,294.33 408.9,294.07 409.25,293.9 409.6,293.8 409.95,293.73 410.3,293.68 410.65,293.65 411,293.63 411.35,293.62 411.7,293.61 412.05,293.61 412.4,293.61 412.75,293.6 413.1,293.6 413.45,293.6 413.8,293.6 413.95,293.6 414.2,234.8 414.5,300.1 414.5,300.1 414.85,297.8 415.2,296.31 415.55,295.35 415.9,294.73 416.25,294.33 416.6,294.07 416.95,293.9 417.3,293.8 417.65,293.73 418,293.68 418.35,293.65 418.75,293.62 419,237.5 419.3,300.1 419.3,300.1 419.65,297.8 420,296.31 420.35,295.35 420.7,294.73 421.05,294.33 421.4,294.07 421.75,293.9 422.1,293.8 422.45,293.73 422.8,293.68 423.15,293.57 423.5,293.37 423.85,293.18 424.2,292.99 424.55,292.8 424.9,292.62 425.25,292.43 425.6,292.25 425.95,292.07 426.3,291.89 426.65,291.7 427,291.52 427.35,291.34 427.7,291.16 428.05,290.98 428.4,290.81 428.75,290.64 429.1,290.47 429.45,290.3 429.8,290.13 430.15,289.96 430.5,289.79 430.85,289.63 431.2,289.46 431.55,289.29 431.9,289.12 432.25,288.95 432.6,288.78 432.95,288.61 433.3,288.44 433.65,288.41 434,289.18 434.25,290.29 434.5,238.4 434.8,296.79 434.8,297.45 435.15,295.92 435.5,295.21 435.85,294.19 436.2,293.5 436.55,293.04 436.9,292.72 437.25,292.49 437.6,292.31 437.95,292.18 438.3,292.07 438.65,291.98 439,291.9 439.35,291.82 439.7,291.75 440.05,291.68 440.4,291.62 440.65,291.52 440.9,238 441.2,298.02 441.2,297.95 441.55,295.56 441.9,293.98 442.25,292.94 442.6,292.23 442.95,291.74 443.3,291.4 443.65,291.14 444,290.95 444.35,290.79 444.7,290.66 445.05,290.54 445.4,290.43 445.75,290.33 446.1,290.24 446.45,290.15 446.8,290.06 447.15,290.09 447.5,290.3 447.85,290.51 448.2,290.72 448.65,291.14 448.9,238.8 449.2,297.64 449.2,297.82 449.55,295.71 449.9,294.28 450.25,293.37 450.6,292.81 450.95,292.47 451.3,292.27 451.65,292.16 452,292.11 452.35,292.1 452.5,292.1 453.1,293.83 453.7,295.29 454.3,296.54 454.9,297.6 455.5,298.51 456.1,299.28 456.7,299.94 457.3,300.51 457.9,301 458.5,301.42 459.1,301.78 459.7,302.09 460.3,302.36 460.9,302.6 461.5,302.81 462.1,302.99 462.7,303.15 463.3,303.29 463.9,303.42 464.5,303.54 465.1,303.64 465.7,303.74 466.3,303.83 466.9,303.91 467.5,303.99 468.1,304.06 468.7,304.13 469.3,304.19 469.9,304.25 470.5,304.31 471.1,304.37 471.7,304.43 472.3,304.48 472.9,304.53 473.5,304.58 474.1,304.64 474.7,304.69 475.3,304.74 475.9,304.78 476.5,304.83 477.1,304.88 477.7,304.93 478.3,304.98" fill="none" stroke="#3a3a3a" stroke-width="0.85" stroke-linejoin="round"/>
<line x1="382.6" y1="299.5" x2="385" y2="299.5" stroke="#222" stroke-width="1"/>
<polyline points="496.8,306.7 502.5,306.7 502.5,306.7 502.85,303.98 503.25,298.81 503.5,230.8 503.8,307.81 503.8,307.75 504.15,305.03 504.5,303.09 504.85,301.7 505.2,300.71 505.55,299.98 505.75,299.33 506,236.4 506.3,307.33 506.3,307.28 506.65,304.55 507,302.61 507.35,301.23 507.75,299.6 508,237.5 508.3,306.95 508.3,306.9 508.65,304.17 509,302.23 509.35,300.84 509.75,299.22 510,238.8 510.3,306.57 510.3,306.51 510.65,303.79 511,301.85 511.35,300.46 511.7,299.47 512.05,298.74 512.4,298.22 512.55,297.78 512.8,239.6 513.1,306.04 513.1,305.99 513.45,303.3 513.8,301.4 514.15,300.05 514.5,299.09 514.85,298.41 515.2,297.92 515.55,297.56 515.9,297.31 516.25,297.11 516.6,296.97 516.95,296.86 517.3,296.78 517.65,296.71 518,296.65 518.35,296.6 518.7,296.56 519.05,296.52 519.4,296.48 519.75,296.45 520.1,296.42 520.45,296.38 520.85,296.33 521.1,240.4 521.4,305.32 521.4,305.3 521.75,302.61 522.1,300.71 522.45,299.36 522.8,298.4 523.15,297.72 523.5,297.23 523.85,296.87 524.2,296.61 524.55,296.42 524.9,296.28 525.25,296.18 525.6,296.11 525.95,296.06 526.3,296.02 526.65,295.99 527,295.97 527.25,295.94 527.5,240.4 527.8,304.92 527.8,304.91 528.15,302.24 528.5,300.35 528.85,299.02 529.2,298.08 529.55,297.41 529.9,296.94 530.25,296.6 530.6,296.36 530.95,296.19 531.3,296.06 531.65,295.97 532,295.9 532.35,295.85 532.7,295.81 533.05,295.78 533.4,295.75 533.75,295.73 534.05,295.7 534.3,242.8 534.6,304.69 534.6,304.68 534.95,302.01 535.3,300.13 535.65,298.79 536,297.85 536.35,297.19 536.7,296.71 537.05,296.37 537.4,296.13 537.75,295.96 538.1,295.84 538.45,295.74 538.8,295.67 539.15,295.62 539.5,295.58 539.85,295.55 540.2,295.52 540.55,295.48 540.9,295.44 541.25,295.41 541.6,295.37 541.95,295.34 542.3,295.31 542.65,295.28 543,295.25 543.35,295.22 543.7,295.19 544.15,295.13 544.4,241.6 544.7,304.13 544.7,304.11 545.05,301.42 545.4,299.52 545.75,298.17 546.1,297.21 546.45,296.53 546.8,296.04 547.15,295.68 547.5,295.42 547.85,295.23 548.2,295.09 548.55,294.98 548.9,294.89 549.25,294.82 549.6,294.77 549.95,294.72 550.3,294.67 550.65,294.64 551,294.6 551.35,294.57 551.7,294.53 552.15,294.45 552.4,243.2 552.7,303.45 552.7,303.41 553.05,300.71 553.4,298.79 553.75,297.43 554.1,296.46 554.45,295.76 554.8,295.25 555.15,294.88 555.5,294.61 555.85,294.4 556.2,294.25 556.55,294.12 556.9,294.02 557.25,293.94 557.6,293.87 557.95,293.8 558.3,293.75 558.65,293.69 559,293.64 559.15,293.59 559.4,245.2 559.7,302.57 559.7,302.54 560.05,299.85 560.4,298.01 560.75,296.72 561.1,295.83 561.45,295.21 561.8,294.78 562.15,294.49 562.5,294.3 562.85,294.17 563.2,294.09 563.55,294.05 563.9,294.02 564.15,294.02 564.4,244.4 564.7,302.94 564.7,302.97 565,302.97 565.6,303.45 566.2,303.87 566.8,304.24 567.4,304.56 568,304.84 568.6,305.08 569.2,305.3 569.8,305.49 570.4,305.65 571,305.8 571.6,305.94 572.2,306.06 572.8,306.17 573.4,306.27 574,306.36 574.6,306.44 575.2,306.52 575.8,306.59 576.4,306.66 577,306.73 577.6,306.79 578.2,306.85 578.8,306.9 579.4,306.96 580,307.01 580.6,307.06 581.2,307.11 581.8,307.16 582.4,307.21 583,307.26 583.6,307.3 584.2,307.35 584.8,307.39 585.4,307.44 586,307.48 586.6,307.53 587.2,307.57 587.8,307.62 588.4,307.66 589,307.7 589.6,307.75 590.2,307.79" fill="none" stroke="#f05050" stroke-width="0.85" stroke-linejoin="round"/>
<line x1="494" y1="299.5" x2="496.4" y2="299.5" stroke="#222" stroke-width="1"/>
<polyline points="385.8,406.4 391,406.4 391,406.4 391.15,398.86 391.4,328.4 391.7,407.86 391.7,407.75 392.05,405.64 392.4,403.97 392.75,401.86 393,332.4 393.3,407.3 393.3,407.19 393.65,405.08 394,403.41 394.35,401.3 394.6,334 394.9,406.74 394.9,406.63 395.25,404.52 395.6,402.85 395.95,401.52 396.25,399.95 396.5,335.2 396.8,406.07 396.8,405.97 397.15,403.86 397.5,402.18 397.85,400.85 398.2,399.79 398.35,398.83 398.6,336.8 398.9,405.34 398.9,405.24 399.25,403.12 399.6,401.45 399.95,400.12 400.25,398.55 400.5,337.5 400.8,404.68 400.8,404.57 401.15,402.49 401.5,400.9 401.85,399.66 402.2,398.68 402.55,397.91 402.9,397.3 403.25,396.81 403.6,396.43 403.95,396.12 404.3,395.87 404.65,395.67 405,395.5 405.35,395.37 405.7,395.25 406.05,395.15 406.4,395.06 406.75,394.99 407.1,394.92 407.45,394.86 407.85,394.76 408.1,336.8 408.4,403.71 408.4,403.68 408.75,401.65 409.1,400.06 409.45,398.81 409.8,397.83 410.15,397.07 410.5,396.49 410.85,396.03 411.2,395.66 411.55,395.38 411.9,395.15 412.25,394.97 412.6,394.83 412.95,394.71 413.15,394.6 413.4,337.2 413.7,403.35 413.7,403.33 414.05,401.33 414.4,399.76 414.75,398.54 415.1,397.58 415.45,396.83 415.8,396.24 416.15,395.78 416.5,395.42 416.85,395.14 417.2,394.91 417.55,394.73 417.9,394.59 418.25,394.47 418.6,394.38 418.95,394.3 419.3,394.24 419.65,394.19 420,394.15 420.35,394.11 420.7,394.07 421.05,394.03 421.45,393.8 421.7,338 422,402.77 422,402.67 422.35,400.56 422.7,398.89 423.05,397.57 423.4,396.51 423.75,395.66 424.1,394.97 424.45,394.41 424.8,393.95 425.15,393.57 425.5,393.24 425.85,392.96 426.2,392.71 426.55,392.5 426.9,392.31 427.25,392.13 427.6,391.96 427.95,391.81 428.3,391.67 428.65,391.53 429,391.39 429.35,391.26 429.7,391.14 430.05,391.01 430.4,390.87 430.75,390.73 431.1,390.59 431.45,390.45 431.8,390.31 432.15,390.18 432.5,390.04 432.85,389.9 433.2,389.77 433.55,389.63 433.9,389.5 434.25,389.36 434.6,389.23 434.95,389.09 435.3,388.96 435.65,388.82 436,388.69 436.35,388.55 436.7,388.42 437.05,388.47 437.45,390.65 437.7,344 438,399.64 438,400.65 438.35,399.83 438.7,399.45 439.05,399.24 439.4,398.2 439.75,397.36 440.1,396.69 440.45,396.15 440.8,395.7 441.15,395.33 441.5,395.02 441.85,394.76 442.2,394.53 442.55,394.33 442.9,394.16 443.25,394 443.6,393.85 443.95,393.71 444.3,393.59 444.65,393.46 445,393.35 445.35,393.23 445.7,393.12 446.05,393.01 446.25,392.85 446.5,341.2 446.8,401.83 446.8,401.73 447.15,399.63 447.5,397.96 447.85,396.63 448.2,395.58 448.55,394.73 448.9,394.04 449.25,393.69 449.6,393.52 449.95,393.42 450.3,393.39 450.65,393.4 451,393.45 451.35,393.52 451.7,393.62 452.05,393.74 452.4,393.86 452.75,394 453,394 453.6,395.41 454.2,396.65 454.8,397.74 455.4,398.7 456,399.54 456.6,400.3 457.2,400.96 457.8,401.55 458.4,402.08 459,402.56 459.6,402.98 460.2,403.36 460.8,403.71 461.4,404.02 462,404.3 462.6,404.57 463.2,404.81 463.8,405.03 464.4,405.23 465,405.43 465.6,405.61 466.2,405.78 466.8,405.94 467.4,406.09 468,406.23 468.6,406.37 469.2,406.51 469.8,406.64 470.4,406.77 471,406.89 471.6,407.01 472.2,407.13 472.8,407.24 473.4,407.36 474,407.47 474.6,407.58 475.2,407.69 475.8,407.8 476.4,407.91 477,408.01 477.6,408.12 478.2,408.22" fill="none" stroke="#3a3a3a" stroke-width="0.85" stroke-linejoin="round"/>
<line x1="382.6" y1="402.5" x2="385" y2="402.5" stroke="#222" stroke-width="1"/>
<polyline points="496.8,406.4 502,406.4 502,406.4 502.35,404.81 502.65,401.66 502.9,346.4 503.2,405.66 503.2,405.55 503.55,404.78 503.9,404.11 504.25,403.52 504.6,403.01 504.95,402.56 505.3,402.16 505.65,401.81 506,401.49 506.35,401.24 506.55,400.96 506.8,349.1 507.1,404.3 507.1,404.23 507.45,403.5 507.8,402.87 508.15,402.33 508.5,401.86 508.85,401.45 509.2,401.1 509.55,400.79 509.9,400.51 510.25,400.27 510.6,400.05 511.05,399.66 511.3,353.1 511.6,403.18 511.6,403.1 511.95,402.37 512.3,401.8 512.65,401.32 513,400.91 513.35,400.56 513.7,400.27 514.05,400.02 514.4,399.8 514.75,399.62 515.1,399.46 515.45,399.32 515.8,399.2 516.15,399.09 516.5,399 516.85,398.92 517.2,398.84 517.55,398.78 517.9,398.72 518.15,398.64 518.4,355.2 518.7,402.51 518.7,402.48 519.05,401.82 519.4,401.25 519.75,400.77 520.1,400.36 520.45,400.02 520.8,399.72 521.15,399.47 521.5,399.26 521.85,399.07 522.2,398.91 522.55,398.77 522.9,398.65 523.25,398.55 523.6,398.45 523.95,398.37 524.3,398.3 524.65,398.23 525,398.17 525.35,398.13 525.7,398.09 526.05,398.05 526.4,398.02 526.55,397.99 526.8,357.1 527.1,401.92 527.1,401.9 527.45,401.25 527.8,400.69 528.15,400.22 528.5,399.83 528.85,399.49 529.2,399.21 529.55,398.97 529.9,398.76 530.25,398.59 530.6,398.44 530.95,398.31 531.3,398.2 531.65,398.11 532,398.03 532.35,397.96 532.7,397.89 533.05,397.84 533.4,397.79 533.75,397.75 534.1,397.71 534.45,397.67 534.8,397.64 535.15,397.61 535.5,397.58 535.95,397.46 536.2,359.2 536.5,401.42 536.5,401.31 536.85,400.53 537.2,399.85 537.55,399.26 537.9,398.75 538.25,398.29 538.6,397.89 538.95,397.53 539.3,397.2 539.65,396.91 540,396.64 540.35,396.39 540.7,396.16 541.05,395.95 541.4,395.75 541.75,395.55 542.1,395.37 542.45,395.2 542.8,395.03 543.15,394.86 543.5,394.7 543.85,394.55 544.2,394.4 544.55,394.25 544.9,394.1 545.25,393.93 545.6,393.74 545.95,393.56 546.3,393.38 546.65,393.2 547,393.02 547.35,392.84 547.7,392.66 548.05,392.49 548.4,392.31 548.75,392.13 549.1,391.96 549.45,391.78 549.8,391.61 550.15,391.43 550.5,391.25 550.85,391.08 551.2,390.9 551.55,390.73 551.9,390.55 552.25,390.38 552.6,390.2 552.95,390.03 553.3,390 553.65,390 554,390 554.35,390 554.7,390 555.05,390 555.4,390 555.75,390 556.1,390 556.45,390 556.8,390 557.15,390 557.5,390 557.85,390 558.2,390 558.55,390 558.9,390 559.25,390 559.6,390 559.95,390 560.3,390 560.65,390 561,390 561.35,390 561.7,390 562.05,390 562.4,390 562.75,390 563.1,390 563.45,390 563.5,390 564.1,391.16 564.7,392.23 565.3,393.23 565.9,394.16 566.5,395.02 567.1,395.83 567.7,396.58 568.3,397.28 568.9,397.93 569.5,398.54 570.1,399.1 570.7,399.63 571.3,400.13 571.9,400.59 572.5,401.03 573.1,401.44 573.7,401.82 574.3,402.18 574.9,402.52 575.5,402.84 576.1,403.14 576.7,403.42 577.3,403.69 577.9,403.94 578.5,404.21 579.1,404.46 579.7,404.71 580.3,404.94 580.9,405.16 581.5,405.38 582.1,405.59 582.7,405.79 583.3,405.99 583.9,406.18 584.5,406.36 585.1,406.54 585.7,406.71 586.3,406.88 586.9,407.04 587.5,407.2 588.1,407.36 588.7,407.51 589.3,407.66 589.9,407.81" fill="none" stroke="#f05050" stroke-width="0.85" stroke-linejoin="round"/>
<line x1="494" y1="402.5" x2="496.4" y2="402.5" stroke="#222" stroke-width="1"/>
<line x1="389.6" y1="419.5" x2="478.2" y2="419.5" stroke="#000" stroke-width="1"/>
<line x1="496.7" y1="419.5" x2="589.6" y2="419.5" stroke="#000" stroke-width="1"/>
<line x1="390.5" y1="419.4" x2="390.5" y2="422.4" stroke="#000" stroke-width="1"/>
<text x="390.4" y="436" font-size="9.5" text-anchor="middle" fill="#000" stroke="#000" stroke-width="0.15" style="font-family:'Liberation Sans', sans-serif">0</text>
<line x1="421.5" y1="419.4" x2="421.5" y2="422.4" stroke="#000" stroke-width="1"/>
<text x="421.6" y="436" font-size="9.5" text-anchor="middle" fill="#000" stroke="#000" stroke-width="0.15" style="font-family:'Liberation Sans', sans-serif">50</text>
<line x1="452.5" y1="419.4" x2="452.5" y2="422.4" stroke="#000" stroke-width="1"/>
<text x="452.6" y="436" font-size="9.5" text-anchor="middle" fill="#000" stroke="#000" stroke-width="0.15" style="font-family:'Liberation Sans', sans-serif">100</text>
<line x1="501.5" y1="419.4" x2="501.5" y2="422.4" stroke="#000" stroke-width="1"/>
<text x="501.6" y="436" font-size="9.5" text-anchor="middle" fill="#000" stroke="#000" stroke-width="0.15" style="font-family:'Liberation Sans', sans-serif">0</text>
<line x1="532.5" y1="419.4" x2="532.5" y2="422.4" stroke="#000" stroke-width="1"/>
<text x="532.4" y="436" font-size="9.5" text-anchor="middle" fill="#000" stroke="#000" stroke-width="0.15" style="font-family:'Liberation Sans', sans-serif">50</text>
<line x1="564.5" y1="419.4" x2="564.5" y2="422.4" stroke="#000" stroke-width="1"/>
<text x="564" y="436" font-size="9.5" text-anchor="middle" fill="#000" stroke="#000" stroke-width="0.15" style="font-family:'Liberation Sans', sans-serif">100</text>
<text x="487.4" y="452.8" font-size="12.8" text-anchor="middle" fill="#000" stroke="#000" stroke-width="0.3" style="font-family:'Liberation Sans', sans-serif">time [ms]</text>
<line x1="642.5" y1="17.1" x2="642.5" y2="109.2" stroke="#000" stroke-width="1"/>
<line x1="642.1" y1="109.5" x2="735.1" y2="109.5" stroke="#000" stroke-width="1"/>
<line x1="639.6" y1="37.5" x2="642.6" y2="37.5" stroke="#000" stroke-width="1"/>
<line x1="639.6" y1="58.5" x2="642.6" y2="58.5" stroke="#000" stroke-width="1"/>
<line x1="639.6" y1="79.5" x2="642.6" y2="79.5" stroke="#000" stroke-width="1"/>
<line x1="639.6" y1="99.5" x2="642.6" y2="99.5" stroke="#000" stroke-width="1"/>
<text x="633.8" y="41" font-size="9.5" text-anchor="end" fill="#000" stroke="#000" stroke-width="0.15" style="font-family:'Liberation Sans', sans-serif">1</text>
<text x="633.8" y="82.4" font-size="9.5" text-anchor="end" fill="#000" stroke="#000" stroke-width="0.15" style="font-family:'Liberation Sans', sans-serif">0.6</text>
<line x1="654.5" y1="109.2" x2="654.5" y2="112.2" stroke="#000" stroke-width="1"/>
<line x1="677.5" y1="109.2" x2="677.5" y2="112.2" stroke="#000" stroke-width="1"/>
<line x1="700.5" y1="109.2" x2="700.5" y2="112.2" stroke="#000" stroke-width="1"/>
<line x1="724.5" y1="109.2" x2="724.5" y2="112.2" stroke="#000" stroke-width="1"/>
<line x1="642.5" y1="120" x2="642.5" y2="213.1" stroke="#000" stroke-width="1"/>
<line x1="642.1" y1="213.5" x2="735.1" y2="213.5" stroke="#000" stroke-width="1"/>
<line x1="639.6" y1="140.5" x2="642.6" y2="140.5" stroke="#000" stroke-width="1"/>
<line x1="639.6" y1="161.5" x2="642.6" y2="161.5" stroke="#000" stroke-width="1"/>
<line x1="639.6" y1="182.5" x2="642.6" y2="182.5" stroke="#000" stroke-width="1"/>
<line x1="639.6" y1="202.5" x2="642.6" y2="202.5" stroke="#000" stroke-width="1"/>
<text x="633.8" y="144" font-size="9.5" text-anchor="end" fill="#000" stroke="#000" stroke-width="0.15" style="font-family:'Liberation Sans', sans-serif">1</text>
<text x="633.8" y="185.4" font-size="9.5" text-anchor="end" fill="#000" stroke="#000" stroke-width="0.15" style="font-family:'Liberation Sans', sans-serif">0.6</text>
<line x1="654.5" y1="213.1" x2="654.5" y2="216.1" stroke="#000" stroke-width="1"/>
<line x1="677.5" y1="213.1" x2="677.5" y2="216.1" stroke="#000" stroke-width="1"/>
<line x1="700.5" y1="213.1" x2="700.5" y2="216.1" stroke="#000" stroke-width="1"/>
<line x1="724.5" y1="213.1" x2="724.5" y2="216.1" stroke="#000" stroke-width="1"/>
<line x1="642.5" y1="223" x2="642.5" y2="316.1" stroke="#000" stroke-width="1"/>
<line x1="642.1" y1="316.5" x2="735.1" y2="316.5" stroke="#000" stroke-width="1"/>
<line x1="639.6" y1="243.5" x2="642.6" y2="243.5" stroke="#000" stroke-width="1"/>
<line x1="639.6" y1="264.5" x2="642.6" y2="264.5" stroke="#000" stroke-width="1"/>
<line x1="639.6" y1="285.5" x2="642.6" y2="285.5" stroke="#000" stroke-width="1"/>
<line x1="639.6" y1="306.5" x2="642.6" y2="306.5" stroke="#000" stroke-width="1"/>
<text x="633.8" y="247.1" font-size="9.5" text-anchor="end" fill="#000" stroke="#000" stroke-width="0.15" style="font-family:'Liberation Sans', sans-serif">1</text>
<text x="633.8" y="288.7" font-size="9.5" text-anchor="end" fill="#000" stroke="#000" stroke-width="0.15" style="font-family:'Liberation Sans', sans-serif">0.6</text>
<line x1="654.5" y1="316.1" x2="654.5" y2="319.1" stroke="#000" stroke-width="1"/>
<line x1="677.5" y1="316.1" x2="677.5" y2="319.1" stroke="#000" stroke-width="1"/>
<line x1="700.5" y1="316.1" x2="700.5" y2="319.1" stroke="#000" stroke-width="1"/>
<line x1="724.5" y1="316.1" x2="724.5" y2="319.1" stroke="#000" stroke-width="1"/>
<line x1="642.5" y1="327" x2="642.5" y2="418.9" stroke="#000" stroke-width="1"/>
<line x1="642.1" y1="418.5" x2="735.1" y2="418.5" stroke="#000" stroke-width="1"/>
<line x1="639.6" y1="347.5" x2="642.6" y2="347.5" stroke="#000" stroke-width="1"/>
<line x1="639.6" y1="367.5" x2="642.6" y2="367.5" stroke="#000" stroke-width="1"/>
<line x1="639.6" y1="388.5" x2="642.6" y2="388.5" stroke="#000" stroke-width="1"/>
<line x1="639.6" y1="409.5" x2="642.6" y2="409.5" stroke="#000" stroke-width="1"/>
<text x="633.8" y="350.6" font-size="9.5" text-anchor="end" fill="#000" stroke="#000" stroke-width="0.15" style="font-family:'Liberation Sans', sans-serif">1</text>
<text x="633.8" y="391.8" font-size="9.5" text-anchor="end" fill="#000" stroke="#000" stroke-width="0.15" style="font-family:'Liberation Sans', sans-serif">0.6</text>
<line x1="654.5" y1="418.9" x2="654.5" y2="421.9" stroke="#000" stroke-width="1"/>
<line x1="677.5" y1="418.9" x2="677.5" y2="421.9" stroke="#000" stroke-width="1"/>
<line x1="700.5" y1="418.9" x2="700.5" y2="421.9" stroke="#000" stroke-width="1"/>
<line x1="724.5" y1="418.9" x2="724.5" y2="421.9" stroke="#000" stroke-width="1"/>
<text x="625.3" y="27.3" font-size="12" text-anchor="start" fill="#000" stroke="#000" stroke-width="0.3" style="font-family:'Liberation Serif', serif">I</text>
<text x="621.9" y="125.3" font-size="12" text-anchor="start" fill="#000" stroke="#000" stroke-width="0.3" style="font-family:'Liberation Serif', serif">II</text>
<text x="620" y="229.2" font-size="12" text-anchor="start" fill="#000" stroke="#000" stroke-width="0.3" style="font-family:'Liberation Serif', serif">III</text>
<text x="619.9" y="330.2" font-size="12" text-anchor="start" fill="#000" stroke="#000" stroke-width="0.3" style="font-family:'Liberation Serif', serif">IV</text>
<text x="651.4" y="103.2" font-size="9.5" text-anchor="start" fill="#333" stroke="#333" stroke-width="0.15" style="font-family:'Liberation Sans', sans-serif">n=5</text>
<text x="651.4" y="205.2" font-size="9.5" text-anchor="start" fill="#333" stroke="#333" stroke-width="0.15" style="font-family:'Liberation Sans', sans-serif">n=5</text>
<text x="649.4" y="310.2" font-size="9.5" text-anchor="start" fill="#333" stroke="#333" stroke-width="0.15" style="font-family:'Liberation Sans', sans-serif">n=10</text>
<text x="649.4" y="413.2" font-size="9.5" text-anchor="start" fill="#333" stroke="#333" stroke-width="0.15" style="font-family:'Liberation Sans', sans-serif">n=4</text>
<text x="651.5" y="435.6" font-size="9.8" text-anchor="middle" fill="#000" stroke="#000" stroke-width="0.15" style="font-family:'Liberation Sans', sans-serif">−80</text>
<text x="674.6" y="435.6" font-size="9.8" text-anchor="middle" fill="#000" stroke="#000" stroke-width="0.15" style="font-family:'Liberation Sans', sans-serif">−70</text>
<text x="697.7" y="435.6" font-size="9.8" text-anchor="middle" fill="#000" stroke="#000" stroke-width="0.15" style="font-family:'Liberation Sans', sans-serif">−60</text>
<text x="721.2" y="435.6" font-size="9.8" text-anchor="middle" fill="#000" stroke="#000" stroke-width="0.15" style="font-family:'Liberation Sans', sans-serif">−50</text>
<text x="623.3" y="452.6" font-size="12.8" text-anchor="start" fill="#000" stroke="#000" stroke-width="0.3" style="font-family:'Liberation Sans', sans-serif">Vm in pre−pulse [mV]</text>
<text x="612.2" y="233" font-size="12.8" text-anchor="middle" fill="#000" stroke="#000" stroke-width="0.3" style="font-family:'Liberation Sans', sans-serif" transform="rotate(-90 612.2 233)">normalized spike rate</text>
<polyline points="649.3,76 659.7,64.3 663.9,65.3 667,58.3 671.4,52.7 677,50.7 681.4,49.3 687.9,37.2 694.1,37.6 700.5,41.2 704.5,43.2 708.6,52.7 711.6,62.3 715,69.4 717.6,76.4 721.6,91.5 724.6,87.5" fill="none" stroke="#000" stroke-width="1.1" stroke-linejoin="round"/>
<line x1="649.3" y1="74.5" x2="649.3" y2="77.5" stroke="#000" stroke-width="0.9"/>
<line x1="647.7" y1="74.5" x2="650.9" y2="74.5" stroke="#000" stroke-width="0.9"/>
<line x1="647.7" y1="77.5" x2="650.9" y2="77.5" stroke="#000" stroke-width="0.9"/>
<line x1="659.7" y1="61.3" x2="659.7" y2="67.3" stroke="#000" stroke-width="0.9"/>
<line x1="658.1" y1="61.3" x2="661.3" y2="61.3" stroke="#000" stroke-width="0.9"/>
<line x1="658.1" y1="67.3" x2="661.3" y2="67.3" stroke="#000" stroke-width="0.9"/>
<line x1="663.9" y1="62.3" x2="663.9" y2="68.3" stroke="#000" stroke-width="0.9"/>
<line x1="662.3" y1="62.3" x2="665.5" y2="62.3" stroke="#000" stroke-width="0.9"/>
<line x1="662.3" y1="68.3" x2="665.5" y2="68.3" stroke="#000" stroke-width="0.9"/>
<line x1="667" y1="55.3" x2="667" y2="61.3" stroke="#000" stroke-width="0.9"/>
<line x1="665.4" y1="55.3" x2="668.6" y2="55.3" stroke="#000" stroke-width="0.9"/>
<line x1="665.4" y1="61.3" x2="668.6" y2="61.3" stroke="#000" stroke-width="0.9"/>
<line x1="671.4" y1="49.7" x2="671.4" y2="55.7" stroke="#000" stroke-width="0.9"/>
<line x1="669.8" y1="49.7" x2="673" y2="49.7" stroke="#000" stroke-width="0.9"/>
<line x1="669.8" y1="55.7" x2="673" y2="55.7" stroke="#000" stroke-width="0.9"/>
<line x1="677" y1="47.7" x2="677" y2="53.7" stroke="#000" stroke-width="0.9"/>
<line x1="675.4" y1="47.7" x2="678.6" y2="47.7" stroke="#000" stroke-width="0.9"/>
<line x1="675.4" y1="53.7" x2="678.6" y2="53.7" stroke="#000" stroke-width="0.9"/>
<line x1="681.4" y1="46.3" x2="681.4" y2="52.3" stroke="#000" stroke-width="0.9"/>
<line x1="679.8" y1="46.3" x2="683" y2="46.3" stroke="#000" stroke-width="0.9"/>
<line x1="679.8" y1="52.3" x2="683" y2="52.3" stroke="#000" stroke-width="0.9"/>
<line x1="687.9" y1="34.2" x2="687.9" y2="40.2" stroke="#000" stroke-width="0.9"/>
<line x1="686.3" y1="34.2" x2="689.5" y2="34.2" stroke="#000" stroke-width="0.9"/>
<line x1="686.3" y1="40.2" x2="689.5" y2="40.2" stroke="#000" stroke-width="0.9"/>
<line x1="694.1" y1="34.6" x2="694.1" y2="40.6" stroke="#000" stroke-width="0.9"/>
<line x1="692.5" y1="34.6" x2="695.7" y2="34.6" stroke="#000" stroke-width="0.9"/>
<line x1="692.5" y1="40.6" x2="695.7" y2="40.6" stroke="#000" stroke-width="0.9"/>
<line x1="700.5" y1="37" x2="700.5" y2="45.4" stroke="#000" stroke-width="0.9"/>
<line x1="698.9" y1="37" x2="702.1" y2="37" stroke="#000" stroke-width="0.9"/>
<line x1="698.9" y1="45.4" x2="702.1" y2="45.4" stroke="#000" stroke-width="0.9"/>
<line x1="704.5" y1="39" x2="704.5" y2="47.4" stroke="#000" stroke-width="0.9"/>
<line x1="702.9" y1="39" x2="706.1" y2="39" stroke="#000" stroke-width="0.9"/>
<line x1="702.9" y1="47.4" x2="706.1" y2="47.4" stroke="#000" stroke-width="0.9"/>
<line x1="708.6" y1="48.5" x2="708.6" y2="56.9" stroke="#000" stroke-width="0.9"/>
<line x1="707" y1="48.5" x2="710.2" y2="48.5" stroke="#000" stroke-width="0.9"/>
<line x1="707" y1="56.9" x2="710.2" y2="56.9" stroke="#000" stroke-width="0.9"/>
<line x1="711.6" y1="58.1" x2="711.6" y2="66.5" stroke="#000" stroke-width="0.9"/>
<line x1="710" y1="58.1" x2="713.2" y2="58.1" stroke="#000" stroke-width="0.9"/>
<line x1="710" y1="66.5" x2="713.2" y2="66.5" stroke="#000" stroke-width="0.9"/>
<line x1="715" y1="65.2" x2="715" y2="73.6" stroke="#000" stroke-width="0.9"/>
<line x1="713.4" y1="65.2" x2="716.6" y2="65.2" stroke="#000" stroke-width="0.9"/>
<line x1="713.4" y1="73.6" x2="716.6" y2="73.6" stroke="#000" stroke-width="0.9"/>
<line x1="717.6" y1="72.2" x2="717.6" y2="80.6" stroke="#000" stroke-width="0.9"/>
<line x1="716" y1="72.2" x2="719.2" y2="72.2" stroke="#000" stroke-width="0.9"/>
<line x1="716" y1="80.6" x2="719.2" y2="80.6" stroke="#000" stroke-width="0.9"/>
<line x1="721.6" y1="83.5" x2="721.6" y2="99.5" stroke="#000" stroke-width="0.9"/>
<line x1="720" y1="83.5" x2="723.2" y2="83.5" stroke="#000" stroke-width="0.9"/>
<line x1="720" y1="99.5" x2="723.2" y2="99.5" stroke="#000" stroke-width="0.9"/>
<line x1="724.6" y1="83.3" x2="724.6" y2="91.7" stroke="#000" stroke-width="0.9"/>
<line x1="723" y1="83.3" x2="726.2" y2="83.3" stroke="#000" stroke-width="0.9"/>
<line x1="723" y1="91.7" x2="726.2" y2="91.7" stroke="#000" stroke-width="0.9"/>
<polyline points="655.3,68.4 661.3,60.9 666.3,56.3 670.4,49.3 674.8,48.3 679.4,42.2 684.4,39.8 689.5,38.2 694.5,35.2 699.5,42.2 705,48.3 708.6,55.3 712.6,66.3 716.2,71.4 719.6,81.4 722.6,85.4" fill="none" stroke="#e82020" stroke-width="1.1" stroke-linejoin="round"/>
<line x1="655.3" y1="65.9" x2="655.3" y2="70.9" stroke="#e82020" stroke-width="0.9"/>
<line x1="653.7" y1="65.9" x2="656.9" y2="65.9" stroke="#e82020" stroke-width="0.9"/>
<line x1="653.7" y1="70.9" x2="656.9" y2="70.9" stroke="#e82020" stroke-width="0.9"/>
<line x1="661.3" y1="58.4" x2="661.3" y2="63.4" stroke="#e82020" stroke-width="0.9"/>
<line x1="659.7" y1="58.4" x2="662.9" y2="58.4" stroke="#e82020" stroke-width="0.9"/>
<line x1="659.7" y1="63.4" x2="662.9" y2="63.4" stroke="#e82020" stroke-width="0.9"/>
<line x1="666.3" y1="53.8" x2="666.3" y2="58.8" stroke="#e82020" stroke-width="0.9"/>
<line x1="664.7" y1="53.8" x2="667.9" y2="53.8" stroke="#e82020" stroke-width="0.9"/>
<line x1="664.7" y1="58.8" x2="667.9" y2="58.8" stroke="#e82020" stroke-width="0.9"/>
<line x1="670.4" y1="46.8" x2="670.4" y2="51.8" stroke="#e82020" stroke-width="0.9"/>
<line x1="668.8" y1="46.8" x2="672" y2="46.8" stroke="#e82020" stroke-width="0.9"/>
<line x1="668.8" y1="51.8" x2="672" y2="51.8" stroke="#e82020" stroke-width="0.9"/>
<line x1="674.8" y1="45.8" x2="674.8" y2="50.8" stroke="#e82020" stroke-width="0.9"/>
<line x1="673.2" y1="45.8" x2="676.4" y2="45.8" stroke="#e82020" stroke-width="0.9"/>
<line x1="673.2" y1="50.8" x2="676.4" y2="50.8" stroke="#e82020" stroke-width="0.9"/>
<line x1="679.4" y1="39.7" x2="679.4" y2="44.7" stroke="#e82020" stroke-width="0.9"/>
<line x1="677.8" y1="39.7" x2="681" y2="39.7" stroke="#e82020" stroke-width="0.9"/>
<line x1="677.8" y1="44.7" x2="681" y2="44.7" stroke="#e82020" stroke-width="0.9"/>
<line x1="684.4" y1="37.3" x2="684.4" y2="42.3" stroke="#e82020" stroke-width="0.9"/>
<line x1="682.8" y1="37.3" x2="686" y2="37.3" stroke="#e82020" stroke-width="0.9"/>
<line x1="682.8" y1="42.3" x2="686" y2="42.3" stroke="#e82020" stroke-width="0.9"/>
<line x1="689.5" y1="35.7" x2="689.5" y2="40.7" stroke="#e82020" stroke-width="0.9"/>
<line x1="687.9" y1="35.7" x2="691.1" y2="35.7" stroke="#e82020" stroke-width="0.9"/>
<line x1="687.9" y1="40.7" x2="691.1" y2="40.7" stroke="#e82020" stroke-width="0.9"/>
<line x1="694.5" y1="32.7" x2="694.5" y2="37.7" stroke="#e82020" stroke-width="0.9"/>
<line x1="692.9" y1="32.7" x2="696.1" y2="32.7" stroke="#e82020" stroke-width="0.9"/>
<line x1="692.9" y1="37.7" x2="696.1" y2="37.7" stroke="#e82020" stroke-width="0.9"/>
<line x1="699.5" y1="39.7" x2="699.5" y2="44.7" stroke="#e82020" stroke-width="0.9"/>
<line x1="697.9" y1="39.7" x2="701.1" y2="39.7" stroke="#e82020" stroke-width="0.9"/>
<line x1="697.9" y1="44.7" x2="701.1" y2="44.7" stroke="#e82020" stroke-width="0.9"/>
<line x1="705" y1="45.8" x2="705" y2="50.8" stroke="#e82020" stroke-width="0.9"/>
<line x1="703.4" y1="45.8" x2="706.6" y2="45.8" stroke="#e82020" stroke-width="0.9"/>
<line x1="703.4" y1="50.8" x2="706.6" y2="50.8" stroke="#e82020" stroke-width="0.9"/>
<line x1="708.6" y1="52.8" x2="708.6" y2="57.8" stroke="#e82020" stroke-width="0.9"/>
<line x1="707" y1="52.8" x2="710.2" y2="52.8" stroke="#e82020" stroke-width="0.9"/>
<line x1="707" y1="57.8" x2="710.2" y2="57.8" stroke="#e82020" stroke-width="0.9"/>
<line x1="712.6" y1="63.8" x2="712.6" y2="68.8" stroke="#e82020" stroke-width="0.9"/>
<line x1="711" y1="63.8" x2="714.2" y2="63.8" stroke="#e82020" stroke-width="0.9"/>
<line x1="711" y1="68.8" x2="714.2" y2="68.8" stroke="#e82020" stroke-width="0.9"/>
<line x1="716.2" y1="68.9" x2="716.2" y2="73.9" stroke="#e82020" stroke-width="0.9"/>
<line x1="714.6" y1="68.9" x2="717.8" y2="68.9" stroke="#e82020" stroke-width="0.9"/>
<line x1="714.6" y1="73.9" x2="717.8" y2="73.9" stroke="#e82020" stroke-width="0.9"/>
<line x1="719.6" y1="78.9" x2="719.6" y2="83.9" stroke="#e82020" stroke-width="0.9"/>
<line x1="718" y1="78.9" x2="721.2" y2="78.9" stroke="#e82020" stroke-width="0.9"/>
<line x1="718" y1="83.9" x2="721.2" y2="83.9" stroke="#e82020" stroke-width="0.9"/>
<line x1="722.6" y1="82.9" x2="722.6" y2="87.9" stroke="#e82020" stroke-width="0.9"/>
<line x1="721" y1="82.9" x2="724.2" y2="82.9" stroke="#e82020" stroke-width="0.9"/>
<line x1="721" y1="87.9" x2="724.2" y2="87.9" stroke="#e82020" stroke-width="0.9"/>
<polyline points="657.3,167.3 661.3,167 664.7,162.7 668.8,155.8 672.8,151.2 677.4,141.2 682,145.8 687.9,141.2 693.5,143.2 698.5,150.2 704.1,151.8 706.6,162.3 709.6,170.3 712.6,179.4 716.2,182 718.6,187.4 721.2,198.5" fill="none" stroke="#000" stroke-width="1.1" stroke-linejoin="round"/>
<line x1="657.3" y1="165.8" x2="657.3" y2="168.8" stroke="#000" stroke-width="0.9"/>
<line x1="655.7" y1="165.8" x2="658.9" y2="165.8" stroke="#000" stroke-width="0.9"/>
<line x1="655.7" y1="168.8" x2="658.9" y2="168.8" stroke="#000" stroke-width="0.9"/>
<line x1="661.3" y1="165.5" x2="661.3" y2="168.5" stroke="#000" stroke-width="0.9"/>
<line x1="659.7" y1="165.5" x2="662.9" y2="165.5" stroke="#000" stroke-width="0.9"/>
<line x1="659.7" y1="168.5" x2="662.9" y2="168.5" stroke="#000" stroke-width="0.9"/>
<line x1="664.7" y1="159.7" x2="664.7" y2="165.7" stroke="#000" stroke-width="0.9"/>
<line x1="663.1" y1="159.7" x2="666.3" y2="159.7" stroke="#000" stroke-width="0.9"/>
<line x1="663.1" y1="165.7" x2="666.3" y2="165.7" stroke="#000" stroke-width="0.9"/>
<line x1="668.8" y1="152.8" x2="668.8" y2="158.8" stroke="#000" stroke-width="0.9"/>
<line x1="667.2" y1="152.8" x2="670.4" y2="152.8" stroke="#000" stroke-width="0.9"/>
<line x1="667.2" y1="158.8" x2="670.4" y2="158.8" stroke="#000" stroke-width="0.9"/>
<line x1="672.8" y1="148.2" x2="672.8" y2="154.2" stroke="#000" stroke-width="0.9"/>
<line x1="671.2" y1="148.2" x2="674.4" y2="148.2" stroke="#000" stroke-width="0.9"/>
<line x1="671.2" y1="154.2" x2="674.4" y2="154.2" stroke="#000" stroke-width="0.9"/>
<line x1="677.4" y1="138.2" x2="677.4" y2="144.2" stroke="#000" stroke-width="0.9"/>
<line x1="675.8" y1="138.2" x2="679" y2="138.2" stroke="#000" stroke-width="0.9"/>
<line x1="675.8" y1="144.2" x2="679" y2="144.2" stroke="#000" stroke-width="0.9"/>
<line x1="682" y1="142.8" x2="682" y2="148.8" stroke="#000" stroke-width="0.9"/>
<line x1="680.4" y1="142.8" x2="683.6" y2="142.8" stroke="#000" stroke-width="0.9"/>
<line x1="680.4" y1="148.8" x2="683.6" y2="148.8" stroke="#000" stroke-width="0.9"/>
<line x1="687.9" y1="138.2" x2="687.9" y2="144.2" stroke="#000" stroke-width="0.9"/>
<line x1="686.3" y1="138.2" x2="689.5" y2="138.2" stroke="#000" stroke-width="0.9"/>
<line x1="686.3" y1="144.2" x2="689.5" y2="144.2" stroke="#000" stroke-width="0.9"/>
<line x1="693.5" y1="140.2" x2="693.5" y2="146.2" stroke="#000" stroke-width="0.9"/>
<line x1="691.9" y1="140.2" x2="695.1" y2="140.2" stroke="#000" stroke-width="0.9"/>
<line x1="691.9" y1="146.2" x2="695.1" y2="146.2" stroke="#000" stroke-width="0.9"/>
<line x1="698.5" y1="147.2" x2="698.5" y2="153.2" stroke="#000" stroke-width="0.9"/>
<line x1="696.9" y1="147.2" x2="700.1" y2="147.2" stroke="#000" stroke-width="0.9"/>
<line x1="696.9" y1="153.2" x2="700.1" y2="153.2" stroke="#000" stroke-width="0.9"/>
<line x1="704.1" y1="144.8" x2="704.1" y2="158.8" stroke="#000" stroke-width="0.9"/>
<line x1="702.5" y1="144.8" x2="705.7" y2="144.8" stroke="#000" stroke-width="0.9"/>
<line x1="702.5" y1="158.8" x2="705.7" y2="158.8" stroke="#000" stroke-width="0.9"/>
<line x1="706.6" y1="155.3" x2="706.6" y2="169.3" stroke="#000" stroke-width="0.9"/>
<line x1="705" y1="155.3" x2="708.2" y2="155.3" stroke="#000" stroke-width="0.9"/>
<line x1="705" y1="169.3" x2="708.2" y2="169.3" stroke="#000" stroke-width="0.9"/>
<line x1="709.6" y1="163.3" x2="709.6" y2="177.3" stroke="#000" stroke-width="0.9"/>
<line x1="708" y1="163.3" x2="711.2" y2="163.3" stroke="#000" stroke-width="0.9"/>
<line x1="708" y1="177.3" x2="711.2" y2="177.3" stroke="#000" stroke-width="0.9"/>
<line x1="712.6" y1="172.4" x2="712.6" y2="186.4" stroke="#000" stroke-width="0.9"/>
<line x1="711" y1="172.4" x2="714.2" y2="172.4" stroke="#000" stroke-width="0.9"/>
<line x1="711" y1="186.4" x2="714.2" y2="186.4" stroke="#000" stroke-width="0.9"/>
<line x1="716.2" y1="175" x2="716.2" y2="189" stroke="#000" stroke-width="0.9"/>
<line x1="714.6" y1="175" x2="717.8" y2="175" stroke="#000" stroke-width="0.9"/>
<line x1="714.6" y1="189" x2="717.8" y2="189" stroke="#000" stroke-width="0.9"/>
<line x1="718.6" y1="180.4" x2="718.6" y2="194.4" stroke="#000" stroke-width="0.9"/>
<line x1="717" y1="180.4" x2="720.2" y2="180.4" stroke="#000" stroke-width="0.9"/>
<line x1="717" y1="194.4" x2="720.2" y2="194.4" stroke="#000" stroke-width="0.9"/>
<line x1="721.2" y1="191.5" x2="721.2" y2="205.5" stroke="#000" stroke-width="0.9"/>
<line x1="719.6" y1="191.5" x2="722.8" y2="191.5" stroke="#000" stroke-width="0.9"/>
<line x1="719.6" y1="205.5" x2="722.8" y2="205.5" stroke="#000" stroke-width="0.9"/>
<polyline points="655.9,148.2 660.7,138.1 664.3,141.2 668.4,140.6 672.8,135.1 677,136.1 681.4,135.1 685.4,135.1 690.5,138.1 694.5,145.2 698.5,156.2 702.9,163.3 707.6,166.3 711,170.3 714.6,174.3 718.6,182.4" fill="none" stroke="#e82020" stroke-width="1.1" stroke-linejoin="round"/>
<line x1="655.9" y1="145.2" x2="655.9" y2="151.2" stroke="#e82020" stroke-width="0.9"/>
<line x1="654.3" y1="145.2" x2="657.5" y2="145.2" stroke="#e82020" stroke-width="0.9"/>
<line x1="654.3" y1="151.2" x2="657.5" y2="151.2" stroke="#e82020" stroke-width="0.9"/>
<line x1="660.7" y1="135.1" x2="660.7" y2="141.1" stroke="#e82020" stroke-width="0.9"/>
<line x1="659.1" y1="135.1" x2="662.3" y2="135.1" stroke="#e82020" stroke-width="0.9"/>
<line x1="659.1" y1="141.1" x2="662.3" y2="141.1" stroke="#e82020" stroke-width="0.9"/>
<line x1="664.3" y1="138.2" x2="664.3" y2="144.2" stroke="#e82020" stroke-width="0.9"/>
<line x1="662.7" y1="138.2" x2="665.9" y2="138.2" stroke="#e82020" stroke-width="0.9"/>
<line x1="662.7" y1="144.2" x2="665.9" y2="144.2" stroke="#e82020" stroke-width="0.9"/>
<line x1="668.4" y1="137.6" x2="668.4" y2="143.6" stroke="#e82020" stroke-width="0.9"/>
<line x1="666.8" y1="137.6" x2="670" y2="137.6" stroke="#e82020" stroke-width="0.9"/>
<line x1="666.8" y1="143.6" x2="670" y2="143.6" stroke="#e82020" stroke-width="0.9"/>
<line x1="672.8" y1="132.1" x2="672.8" y2="138.1" stroke="#e82020" stroke-width="0.9"/>
<line x1="671.2" y1="132.1" x2="674.4" y2="132.1" stroke="#e82020" stroke-width="0.9"/>
<line x1="671.2" y1="138.1" x2="674.4" y2="138.1" stroke="#e82020" stroke-width="0.9"/>
<line x1="677" y1="133.1" x2="677" y2="139.1" stroke="#e82020" stroke-width="0.9"/>
<line x1="675.4" y1="133.1" x2="678.6" y2="133.1" stroke="#e82020" stroke-width="0.9"/>
<line x1="675.4" y1="139.1" x2="678.6" y2="139.1" stroke="#e82020" stroke-width="0.9"/>
<line x1="681.4" y1="132.1" x2="681.4" y2="138.1" stroke="#e82020" stroke-width="0.9"/>
<line x1="679.8" y1="132.1" x2="683" y2="132.1" stroke="#e82020" stroke-width="0.9"/>
<line x1="679.8" y1="138.1" x2="683" y2="138.1" stroke="#e82020" stroke-width="0.9"/>
<line x1="685.4" y1="132.1" x2="685.4" y2="138.1" stroke="#e82020" stroke-width="0.9"/>
<line x1="683.8" y1="132.1" x2="687" y2="132.1" stroke="#e82020" stroke-width="0.9"/>
<line x1="683.8" y1="138.1" x2="687" y2="138.1" stroke="#e82020" stroke-width="0.9"/>
<line x1="690.5" y1="135.1" x2="690.5" y2="141.1" stroke="#e82020" stroke-width="0.9"/>
<line x1="688.9" y1="135.1" x2="692.1" y2="135.1" stroke="#e82020" stroke-width="0.9"/>
<line x1="688.9" y1="141.1" x2="692.1" y2="141.1" stroke="#e82020" stroke-width="0.9"/>
<line x1="694.5" y1="142.2" x2="694.5" y2="148.2" stroke="#e82020" stroke-width="0.9"/>
<line x1="692.9" y1="142.2" x2="696.1" y2="142.2" stroke="#e82020" stroke-width="0.9"/>
<line x1="692.9" y1="148.2" x2="696.1" y2="148.2" stroke="#e82020" stroke-width="0.9"/>
<line x1="698.5" y1="153.2" x2="698.5" y2="159.2" stroke="#e82020" stroke-width="0.9"/>
<line x1="696.9" y1="153.2" x2="700.1" y2="153.2" stroke="#e82020" stroke-width="0.9"/>
<line x1="696.9" y1="159.2" x2="700.1" y2="159.2" stroke="#e82020" stroke-width="0.9"/>
<line x1="702.9" y1="160.3" x2="702.9" y2="166.3" stroke="#e82020" stroke-width="0.9"/>
<line x1="701.3" y1="160.3" x2="704.5" y2="160.3" stroke="#e82020" stroke-width="0.9"/>
<line x1="701.3" y1="166.3" x2="704.5" y2="166.3" stroke="#e82020" stroke-width="0.9"/>
<line x1="707.6" y1="163.3" x2="707.6" y2="169.3" stroke="#e82020" stroke-width="0.9"/>
<line x1="706" y1="163.3" x2="709.2" y2="163.3" stroke="#e82020" stroke-width="0.9"/>
<line x1="706" y1="169.3" x2="709.2" y2="169.3" stroke="#e82020" stroke-width="0.9"/>
<line x1="711" y1="167.3" x2="711" y2="173.3" stroke="#e82020" stroke-width="0.9"/>
<line x1="709.4" y1="167.3" x2="712.6" y2="167.3" stroke="#e82020" stroke-width="0.9"/>
<line x1="709.4" y1="173.3" x2="712.6" y2="173.3" stroke="#e82020" stroke-width="0.9"/>
<line x1="714.6" y1="171.3" x2="714.6" y2="177.3" stroke="#e82020" stroke-width="0.9"/>
<line x1="713" y1="171.3" x2="716.2" y2="171.3" stroke="#e82020" stroke-width="0.9"/>
<line x1="713" y1="177.3" x2="716.2" y2="177.3" stroke="#e82020" stroke-width="0.9"/>
<line x1="718.6" y1="179.4" x2="718.6" y2="185.4" stroke="#e82020" stroke-width="0.9"/>
<line x1="717" y1="179.4" x2="720.2" y2="179.4" stroke="#e82020" stroke-width="0.9"/>
<line x1="717" y1="185.4" x2="720.2" y2="185.4" stroke="#e82020" stroke-width="0.9"/>
<line x1="653.5" y1="167.3" x2="661.5" y2="167.3" stroke="#000" stroke-width="0.9"/>
<polyline points="654.3,260.8 660.3,260.8 664.7,257.2 668.8,248.1 679.4,241.1 684.4,243.7 688.5,244.1 693.5,245.1 697.5,251.2 702.5,257.2 706.6,268.3 709.6,277.3 712.6,282.3 716.2,279.3 720.2,284.3 724.6,286.3" fill="none" stroke="#000" stroke-width="1.1" stroke-linejoin="round"/>
<line x1="654.3" y1="257.8" x2="654.3" y2="263.8" stroke="#000" stroke-width="0.9"/>
<line x1="652.7" y1="257.8" x2="655.9" y2="257.8" stroke="#000" stroke-width="0.9"/>
<line x1="652.7" y1="263.8" x2="655.9" y2="263.8" stroke="#000" stroke-width="0.9"/>
<line x1="660.3" y1="257.8" x2="660.3" y2="263.8" stroke="#000" stroke-width="0.9"/>
<line x1="658.7" y1="257.8" x2="661.9" y2="257.8" stroke="#000" stroke-width="0.9"/>
<line x1="658.7" y1="263.8" x2="661.9" y2="263.8" stroke="#000" stroke-width="0.9"/>
<line x1="664.7" y1="254.2" x2="664.7" y2="260.2" stroke="#000" stroke-width="0.9"/>
<line x1="663.1" y1="254.2" x2="666.3" y2="254.2" stroke="#000" stroke-width="0.9"/>
<line x1="663.1" y1="260.2" x2="666.3" y2="260.2" stroke="#000" stroke-width="0.9"/>
<line x1="668.8" y1="245.1" x2="668.8" y2="251.1" stroke="#000" stroke-width="0.9"/>
<line x1="667.2" y1="245.1" x2="670.4" y2="245.1" stroke="#000" stroke-width="0.9"/>
<line x1="667.2" y1="251.1" x2="670.4" y2="251.1" stroke="#000" stroke-width="0.9"/>
<line x1="679.4" y1="238.1" x2="679.4" y2="244.1" stroke="#000" stroke-width="0.9"/>
<line x1="677.8" y1="238.1" x2="681" y2="238.1" stroke="#000" stroke-width="0.9"/>
<line x1="677.8" y1="244.1" x2="681" y2="244.1" stroke="#000" stroke-width="0.9"/>
<line x1="684.4" y1="240.7" x2="684.4" y2="246.7" stroke="#000" stroke-width="0.9"/>
<line x1="682.8" y1="240.7" x2="686" y2="240.7" stroke="#000" stroke-width="0.9"/>
<line x1="682.8" y1="246.7" x2="686" y2="246.7" stroke="#000" stroke-width="0.9"/>
<line x1="688.5" y1="241.1" x2="688.5" y2="247.1" stroke="#000" stroke-width="0.9"/>
<line x1="686.9" y1="241.1" x2="690.1" y2="241.1" stroke="#000" stroke-width="0.9"/>
<line x1="686.9" y1="247.1" x2="690.1" y2="247.1" stroke="#000" stroke-width="0.9"/>
<line x1="693.5" y1="242.1" x2="693.5" y2="248.1" stroke="#000" stroke-width="0.9"/>
<line x1="691.9" y1="242.1" x2="695.1" y2="242.1" stroke="#000" stroke-width="0.9"/>
<line x1="691.9" y1="248.1" x2="695.1" y2="248.1" stroke="#000" stroke-width="0.9"/>
<line x1="697.5" y1="248.2" x2="697.5" y2="254.2" stroke="#000" stroke-width="0.9"/>
<line x1="695.9" y1="248.2" x2="699.1" y2="248.2" stroke="#000" stroke-width="0.9"/>
<line x1="695.9" y1="254.2" x2="699.1" y2="254.2" stroke="#000" stroke-width="0.9"/>
<line x1="702.5" y1="254.2" x2="702.5" y2="260.2" stroke="#000" stroke-width="0.9"/>
<line x1="700.9" y1="254.2" x2="704.1" y2="254.2" stroke="#000" stroke-width="0.9"/>
<line x1="700.9" y1="260.2" x2="704.1" y2="260.2" stroke="#000" stroke-width="0.9"/>
<line x1="706.6" y1="265.3" x2="706.6" y2="271.3" stroke="#000" stroke-width="0.9"/>
<line x1="705" y1="265.3" x2="708.2" y2="265.3" stroke="#000" stroke-width="0.9"/>
<line x1="705" y1="271.3" x2="708.2" y2="271.3" stroke="#000" stroke-width="0.9"/>
<line x1="709.6" y1="274.3" x2="709.6" y2="280.3" stroke="#000" stroke-width="0.9"/>
<line x1="708" y1="274.3" x2="711.2" y2="274.3" stroke="#000" stroke-width="0.9"/>
<line x1="708" y1="280.3" x2="711.2" y2="280.3" stroke="#000" stroke-width="0.9"/>
<line x1="712.6" y1="279.3" x2="712.6" y2="285.3" stroke="#000" stroke-width="0.9"/>
<line x1="711" y1="279.3" x2="714.2" y2="279.3" stroke="#000" stroke-width="0.9"/>
<line x1="711" y1="285.3" x2="714.2" y2="285.3" stroke="#000" stroke-width="0.9"/>
<line x1="716.2" y1="276.3" x2="716.2" y2="282.3" stroke="#000" stroke-width="0.9"/>
<line x1="714.6" y1="276.3" x2="717.8" y2="276.3" stroke="#000" stroke-width="0.9"/>
<line x1="714.6" y1="282.3" x2="717.8" y2="282.3" stroke="#000" stroke-width="0.9"/>
<line x1="720.2" y1="281.3" x2="720.2" y2="287.3" stroke="#000" stroke-width="0.9"/>
<line x1="718.6" y1="281.3" x2="721.8" y2="281.3" stroke="#000" stroke-width="0.9"/>
<line x1="718.6" y1="287.3" x2="721.8" y2="287.3" stroke="#000" stroke-width="0.9"/>
<line x1="724.6" y1="283.3" x2="724.6" y2="289.3" stroke="#000" stroke-width="0.9"/>
<line x1="723" y1="283.3" x2="726.2" y2="283.3" stroke="#000" stroke-width="0.9"/>
<line x1="723" y1="289.3" x2="726.2" y2="289.3" stroke="#000" stroke-width="0.9"/>
<polyline points="652.3,274.3 660.3,263.2 665.3,259.2 670.8,251.2 675.4,249.2 680.4,243.7 686.4,244.5 693.5,246.1 698.5,252.2 702.5,259.2 707.6,270.3 711.6,284.3 715.6,292.4 718.6,293.4 721.6,289.4 726.3,302.4 731.7,302.4 735.1,304.8" fill="none" stroke="#e82020" stroke-width="1.1" stroke-linejoin="round"/>
<line x1="652.3" y1="271.7" x2="652.3" y2="276.9" stroke="#e82020" stroke-width="0.9"/>
<line x1="650.7" y1="271.7" x2="653.9" y2="271.7" stroke="#e82020" stroke-width="0.9"/>
<line x1="650.7" y1="276.9" x2="653.9" y2="276.9" stroke="#e82020" stroke-width="0.9"/>
<line x1="660.3" y1="260.6" x2="660.3" y2="265.8" stroke="#e82020" stroke-width="0.9"/>
<line x1="658.7" y1="260.6" x2="661.9" y2="260.6" stroke="#e82020" stroke-width="0.9"/>
<line x1="658.7" y1="265.8" x2="661.9" y2="265.8" stroke="#e82020" stroke-width="0.9"/>
<line x1="665.3" y1="256.6" x2="665.3" y2="261.8" stroke="#e82020" stroke-width="0.9"/>
<line x1="663.7" y1="256.6" x2="666.9" y2="256.6" stroke="#e82020" stroke-width="0.9"/>
<line x1="663.7" y1="261.8" x2="666.9" y2="261.8" stroke="#e82020" stroke-width="0.9"/>
<line x1="670.8" y1="248.6" x2="670.8" y2="253.8" stroke="#e82020" stroke-width="0.9"/>
<line x1="669.2" y1="248.6" x2="672.4" y2="248.6" stroke="#e82020" stroke-width="0.9"/>
<line x1="669.2" y1="253.8" x2="672.4" y2="253.8" stroke="#e82020" stroke-width="0.9"/>
<line x1="675.4" y1="246.6" x2="675.4" y2="251.8" stroke="#e82020" stroke-width="0.9"/>
<line x1="673.8" y1="246.6" x2="677" y2="246.6" stroke="#e82020" stroke-width="0.9"/>
<line x1="673.8" y1="251.8" x2="677" y2="251.8" stroke="#e82020" stroke-width="0.9"/>
<line x1="680.4" y1="241.1" x2="680.4" y2="246.3" stroke="#e82020" stroke-width="0.9"/>
<line x1="678.8" y1="241.1" x2="682" y2="241.1" stroke="#e82020" stroke-width="0.9"/>
<line x1="678.8" y1="246.3" x2="682" y2="246.3" stroke="#e82020" stroke-width="0.9"/>
<line x1="686.4" y1="241.9" x2="686.4" y2="247.1" stroke="#e82020" stroke-width="0.9"/>
<line x1="684.8" y1="241.9" x2="688" y2="241.9" stroke="#e82020" stroke-width="0.9"/>
<line x1="684.8" y1="247.1" x2="688" y2="247.1" stroke="#e82020" stroke-width="0.9"/>
<line x1="693.5" y1="243.5" x2="693.5" y2="248.7" stroke="#e82020" stroke-width="0.9"/>
<line x1="691.9" y1="243.5" x2="695.1" y2="243.5" stroke="#e82020" stroke-width="0.9"/>
<line x1="691.9" y1="248.7" x2="695.1" y2="248.7" stroke="#e82020" stroke-width="0.9"/>
<line x1="698.5" y1="249.6" x2="698.5" y2="254.8" stroke="#e82020" stroke-width="0.9"/>
<line x1="696.9" y1="249.6" x2="700.1" y2="249.6" stroke="#e82020" stroke-width="0.9"/>
<line x1="696.9" y1="254.8" x2="700.1" y2="254.8" stroke="#e82020" stroke-width="0.9"/>
<line x1="702.5" y1="256.6" x2="702.5" y2="261.8" stroke="#e82020" stroke-width="0.9"/>
<line x1="700.9" y1="256.6" x2="704.1" y2="256.6" stroke="#e82020" stroke-width="0.9"/>
<line x1="700.9" y1="261.8" x2="704.1" y2="261.8" stroke="#e82020" stroke-width="0.9"/>
<line x1="707.6" y1="267.7" x2="707.6" y2="272.9" stroke="#e82020" stroke-width="0.9"/>
<line x1="706" y1="267.7" x2="709.2" y2="267.7" stroke="#e82020" stroke-width="0.9"/>
<line x1="706" y1="272.9" x2="709.2" y2="272.9" stroke="#e82020" stroke-width="0.9"/>
<line x1="711.6" y1="281.7" x2="711.6" y2="286.9" stroke="#e82020" stroke-width="0.9"/>
<line x1="710" y1="281.7" x2="713.2" y2="281.7" stroke="#e82020" stroke-width="0.9"/>
<line x1="710" y1="286.9" x2="713.2" y2="286.9" stroke="#e82020" stroke-width="0.9"/>
<line x1="715.6" y1="289.8" x2="715.6" y2="295" stroke="#e82020" stroke-width="0.9"/>
<line x1="714" y1="289.8" x2="717.2" y2="289.8" stroke="#e82020" stroke-width="0.9"/>
<line x1="714" y1="295" x2="717.2" y2="295" stroke="#e82020" stroke-width="0.9"/>
<line x1="718.6" y1="290.8" x2="718.6" y2="296" stroke="#e82020" stroke-width="0.9"/>
<line x1="717" y1="290.8" x2="720.2" y2="290.8" stroke="#e82020" stroke-width="0.9"/>
<line x1="717" y1="296" x2="720.2" y2="296" stroke="#e82020" stroke-width="0.9"/>
<line x1="721.6" y1="286.8" x2="721.6" y2="292" stroke="#e82020" stroke-width="0.9"/>
<line x1="720" y1="286.8" x2="723.2" y2="286.8" stroke="#e82020" stroke-width="0.9"/>
<line x1="720" y1="292" x2="723.2" y2="292" stroke="#e82020" stroke-width="0.9"/>
<line x1="726.3" y1="299.8" x2="726.3" y2="305" stroke="#e82020" stroke-width="0.9"/>
<line x1="724.7" y1="299.8" x2="727.9" y2="299.8" stroke="#e82020" stroke-width="0.9"/>
<line x1="724.7" y1="305" x2="727.9" y2="305" stroke="#e82020" stroke-width="0.9"/>
<line x1="731.7" y1="299.8" x2="731.7" y2="305" stroke="#e82020" stroke-width="0.9"/>
<line x1="730.1" y1="299.8" x2="733.3" y2="299.8" stroke="#e82020" stroke-width="0.9"/>
<line x1="730.1" y1="305" x2="733.3" y2="305" stroke="#e82020" stroke-width="0.9"/>
<line x1="735.1" y1="302.2" x2="735.1" y2="307.4" stroke="#e82020" stroke-width="0.9"/>
<line x1="733.5" y1="302.2" x2="736.7" y2="302.2" stroke="#e82020" stroke-width="0.9"/>
<line x1="733.5" y1="307.4" x2="736.7" y2="307.4" stroke="#e82020" stroke-width="0.9"/>
<line x1="650.5" y1="260.8" x2="664" y2="260.8" stroke="#000" stroke-width="0.9"/>
<line x1="666" y1="248.1" x2="672" y2="248.1" stroke="#000" stroke-width="0.9"/>
<line x1="718" y1="284.3" x2="726" y2="284.3" stroke="#000" stroke-width="0.9"/>
<polyline points="645.8,374.7 655.9,367.9 661.3,365.3 668.8,359.2 674,357.2 678,353.8 685.4,345.7 691.5,346.1 698.5,355.8 704.5,360.2 708.6,374.3 712.6,382.3 715.6,379.3 719.6,384 723,380.3" fill="none" stroke="#000" stroke-width="1.1" stroke-linejoin="round"/>
<line x1="645.8" y1="373.1" x2="645.8" y2="376.3" stroke="#000" stroke-width="0.9"/>
<line x1="644.2" y1="373.1" x2="647.4" y2="373.1" stroke="#000" stroke-width="0.9"/>
<line x1="644.2" y1="376.3" x2="647.4" y2="376.3" stroke="#000" stroke-width="0.9"/>
<line x1="655.9" y1="366.3" x2="655.9" y2="369.5" stroke="#000" stroke-width="0.9"/>
<line x1="654.3" y1="366.3" x2="657.5" y2="366.3" stroke="#000" stroke-width="0.9"/>
<line x1="654.3" y1="369.5" x2="657.5" y2="369.5" stroke="#000" stroke-width="0.9"/>
<line x1="661.3" y1="363.7" x2="661.3" y2="366.9" stroke="#000" stroke-width="0.9"/>
<line x1="659.7" y1="363.7" x2="662.9" y2="363.7" stroke="#000" stroke-width="0.9"/>
<line x1="659.7" y1="366.9" x2="662.9" y2="366.9" stroke="#000" stroke-width="0.9"/>
<line x1="668.8" y1="357.6" x2="668.8" y2="360.8" stroke="#000" stroke-width="0.9"/>
<line x1="667.2" y1="357.6" x2="670.4" y2="357.6" stroke="#000" stroke-width="0.9"/>
<line x1="667.2" y1="360.8" x2="670.4" y2="360.8" stroke="#000" stroke-width="0.9"/>
<line x1="674" y1="355.6" x2="674" y2="358.8" stroke="#000" stroke-width="0.9"/>
<line x1="672.4" y1="355.6" x2="675.6" y2="355.6" stroke="#000" stroke-width="0.9"/>
<line x1="672.4" y1="358.8" x2="675.6" y2="358.8" stroke="#000" stroke-width="0.9"/>
<line x1="678" y1="352.2" x2="678" y2="355.4" stroke="#000" stroke-width="0.9"/>
<line x1="676.4" y1="352.2" x2="679.6" y2="352.2" stroke="#000" stroke-width="0.9"/>
<line x1="676.4" y1="355.4" x2="679.6" y2="355.4" stroke="#000" stroke-width="0.9"/>
<line x1="685.4" y1="344.1" x2="685.4" y2="347.3" stroke="#000" stroke-width="0.9"/>
<line x1="683.8" y1="344.1" x2="687" y2="344.1" stroke="#000" stroke-width="0.9"/>
<line x1="683.8" y1="347.3" x2="687" y2="347.3" stroke="#000" stroke-width="0.9"/>
<line x1="691.5" y1="344.5" x2="691.5" y2="347.7" stroke="#000" stroke-width="0.9"/>
<line x1="689.9" y1="344.5" x2="693.1" y2="344.5" stroke="#000" stroke-width="0.9"/>
<line x1="689.9" y1="347.7" x2="693.1" y2="347.7" stroke="#000" stroke-width="0.9"/>
<line x1="698.5" y1="354.2" x2="698.5" y2="357.4" stroke="#000" stroke-width="0.9"/>
<line x1="696.9" y1="354.2" x2="700.1" y2="354.2" stroke="#000" stroke-width="0.9"/>
<line x1="696.9" y1="357.4" x2="700.1" y2="357.4" stroke="#000" stroke-width="0.9"/>
<line x1="704.5" y1="358.6" x2="704.5" y2="361.8" stroke="#000" stroke-width="0.9"/>
<line x1="702.9" y1="358.6" x2="706.1" y2="358.6" stroke="#000" stroke-width="0.9"/>
<line x1="702.9" y1="361.8" x2="706.1" y2="361.8" stroke="#000" stroke-width="0.9"/>
<line x1="708.6" y1="369.8" x2="708.6" y2="378.8" stroke="#000" stroke-width="0.9"/>
<line x1="707" y1="369.8" x2="710.2" y2="369.8" stroke="#000" stroke-width="0.9"/>
<line x1="707" y1="378.8" x2="710.2" y2="378.8" stroke="#000" stroke-width="0.9"/>
<line x1="712.6" y1="377.8" x2="712.6" y2="386.8" stroke="#000" stroke-width="0.9"/>
<line x1="711" y1="377.8" x2="714.2" y2="377.8" stroke="#000" stroke-width="0.9"/>
<line x1="711" y1="386.8" x2="714.2" y2="386.8" stroke="#000" stroke-width="0.9"/>
<line x1="715.6" y1="374.8" x2="715.6" y2="383.8" stroke="#000" stroke-width="0.9"/>
<line x1="714" y1="374.8" x2="717.2" y2="374.8" stroke="#000" stroke-width="0.9"/>
<line x1="714" y1="383.8" x2="717.2" y2="383.8" stroke="#000" stroke-width="0.9"/>
<line x1="719.6" y1="379.5" x2="719.6" y2="388.5" stroke="#000" stroke-width="0.9"/>
<line x1="718" y1="379.5" x2="721.2" y2="379.5" stroke="#000" stroke-width="0.9"/>
<line x1="718" y1="388.5" x2="721.2" y2="388.5" stroke="#000" stroke-width="0.9"/>
<line x1="723" y1="375.8" x2="723" y2="384.8" stroke="#000" stroke-width="0.9"/>
<line x1="721.4" y1="375.8" x2="724.6" y2="375.8" stroke="#000" stroke-width="0.9"/>
<line x1="721.4" y1="384.8" x2="724.6" y2="384.8" stroke="#000" stroke-width="0.9"/>
<polyline points="644.6,340.1 653.9,349.8 659.3,351.2 664.7,348.1 669.4,349.8 677.4,364.2 685.4,350.2 694.9,354.2 704.5,385.3 709.6,373.9 713,395.4 716.2,399.4 720.2,397.4 723.6,403.4 727,389.4 730.7,412.1 734.3,413.5" fill="none" stroke="#e82020" stroke-width="1.1" stroke-linejoin="round"/>
<line x1="644.6" y1="329" x2="644.6" y2="351.2" stroke="#e82020" stroke-width="0.9"/>
<line x1="643" y1="329" x2="646.2" y2="329" stroke="#e82020" stroke-width="0.9"/>
<line x1="643" y1="351.2" x2="646.2" y2="351.2" stroke="#e82020" stroke-width="0.9"/>
<line x1="653.9" y1="342" x2="653.9" y2="357.2" stroke="#e82020" stroke-width="0.9"/>
<line x1="652.3" y1="342" x2="655.5" y2="342" stroke="#e82020" stroke-width="0.9"/>
<line x1="652.3" y1="357.2" x2="655.5" y2="357.2" stroke="#e82020" stroke-width="0.9"/>
<line x1="659.3" y1="341" x2="659.3" y2="359.2" stroke="#e82020" stroke-width="0.9"/>
<line x1="657.7" y1="341" x2="660.9" y2="341" stroke="#e82020" stroke-width="0.9"/>
<line x1="657.7" y1="359.2" x2="660.9" y2="359.2" stroke="#e82020" stroke-width="0.9"/>
<line x1="664.7" y1="338.5" x2="664.7" y2="358.2" stroke="#e82020" stroke-width="0.9"/>
<line x1="663.1" y1="338.5" x2="666.3" y2="338.5" stroke="#e82020" stroke-width="0.9"/>
<line x1="663.1" y1="358.2" x2="666.3" y2="358.2" stroke="#e82020" stroke-width="0.9"/>
<line x1="669.4" y1="338.5" x2="669.4" y2="361.2" stroke="#e82020" stroke-width="0.9"/>
<line x1="667.8" y1="338.5" x2="671" y2="338.5" stroke="#e82020" stroke-width="0.9"/>
<line x1="667.8" y1="361.2" x2="671" y2="361.2" stroke="#e82020" stroke-width="0.9"/>
<line x1="677.4" y1="353.2" x2="677.4" y2="375.9" stroke="#e82020" stroke-width="0.9"/>
<line x1="675.8" y1="353.2" x2="679" y2="353.2" stroke="#e82020" stroke-width="0.9"/>
<line x1="675.8" y1="375.9" x2="679" y2="375.9" stroke="#e82020" stroke-width="0.9"/>
<line x1="685.4" y1="333" x2="685.4" y2="367.2" stroke="#e82020" stroke-width="0.9"/>
<line x1="683.8" y1="333" x2="687" y2="333" stroke="#e82020" stroke-width="0.9"/>
<line x1="683.8" y1="367.2" x2="687" y2="367.2" stroke="#e82020" stroke-width="0.9"/>
<line x1="694.9" y1="350.2" x2="694.9" y2="358.2" stroke="#e82020" stroke-width="0.9"/>
<line x1="693.3" y1="350.2" x2="696.5" y2="350.2" stroke="#e82020" stroke-width="0.9"/>
<line x1="693.3" y1="358.2" x2="696.5" y2="358.2" stroke="#e82020" stroke-width="0.9"/>
<line x1="704.5" y1="377.3" x2="704.5" y2="397.3" stroke="#e82020" stroke-width="0.9"/>
<line x1="702.9" y1="377.3" x2="706.1" y2="377.3" stroke="#e82020" stroke-width="0.9"/>
<line x1="702.9" y1="397.3" x2="706.1" y2="397.3" stroke="#e82020" stroke-width="0.9"/>
<line x1="709.6" y1="367.2" x2="709.6" y2="380.3" stroke="#e82020" stroke-width="0.9"/>
<line x1="708" y1="367.2" x2="711.2" y2="367.2" stroke="#e82020" stroke-width="0.9"/>
<line x1="708" y1="380.3" x2="711.2" y2="380.3" stroke="#e82020" stroke-width="0.9"/>
<line x1="713" y1="387.4" x2="713" y2="406.4" stroke="#e82020" stroke-width="0.9"/>
<line x1="711.4" y1="387.4" x2="714.6" y2="387.4" stroke="#e82020" stroke-width="0.9"/>
<line x1="711.4" y1="406.4" x2="714.6" y2="406.4" stroke="#e82020" stroke-width="0.9"/>
<line x1="716.2" y1="394.4" x2="716.2" y2="404.4" stroke="#e82020" stroke-width="0.9"/>
<line x1="714.6" y1="394.4" x2="717.8" y2="394.4" stroke="#e82020" stroke-width="0.9"/>
<line x1="714.6" y1="404.4" x2="717.8" y2="404.4" stroke="#e82020" stroke-width="0.9"/>
<line x1="720.2" y1="393.4" x2="720.2" y2="401.4" stroke="#e82020" stroke-width="0.9"/>
<line x1="718.6" y1="393.4" x2="721.8" y2="393.4" stroke="#e82020" stroke-width="0.9"/>
<line x1="718.6" y1="401.4" x2="721.8" y2="401.4" stroke="#e82020" stroke-width="0.9"/>
<line x1="723.6" y1="396.4" x2="723.6" y2="414.4" stroke="#e82020" stroke-width="0.9"/>
<line x1="722" y1="396.4" x2="725.2" y2="396.4" stroke="#e82020" stroke-width="0.9"/>
<line x1="722" y1="414.4" x2="725.2" y2="414.4" stroke="#e82020" stroke-width="0.9"/>
<line x1="727" y1="374.3" x2="727" y2="404.4" stroke="#e82020" stroke-width="0.9"/>
<line x1="725.4" y1="374.3" x2="728.6" y2="374.3" stroke="#e82020" stroke-width="0.9"/>
<line x1="725.4" y1="404.4" x2="728.6" y2="404.4" stroke="#e82020" stroke-width="0.9"/>
<line x1="730.7" y1="405.4" x2="730.7" y2="418.4" stroke="#e82020" stroke-width="0.9"/>
<line x1="729.1" y1="405.4" x2="732.3" y2="405.4" stroke="#e82020" stroke-width="0.9"/>
<line x1="729.1" y1="418.4" x2="732.3" y2="418.4" stroke="#e82020" stroke-width="0.9"/>
<line x1="734.3" y1="404.4" x2="734.3" y2="418.4" stroke="#e82020" stroke-width="0.9"/>
<line x1="732.7" y1="404.4" x2="735.9" y2="404.4" stroke="#e82020" stroke-width="0.9"/>
<line x1="732.7" y1="418.4" x2="735.9" y2="418.4" stroke="#e82020" stroke-width="0.9"/>
</svg></body></html>
